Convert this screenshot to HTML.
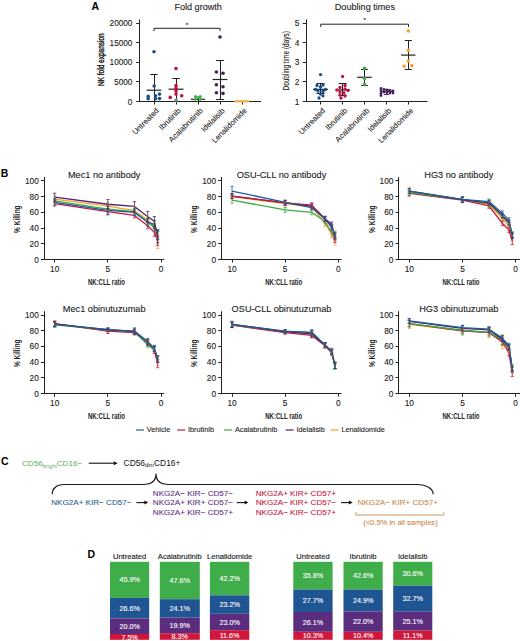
<!DOCTYPE html>
<html><head><meta charset="utf-8"><style>
html,body{margin:0;padding:0;background:#fff;}
svg{display:block;}
text{font-family:"Liberation Sans", sans-serif;}
</style></head><body>
<svg width="520" height="641" viewBox="0 0 520 641" font-family="Liberation Sans, sans-serif">
<rect width="520" height="641" fill="#fff"/>
<text x="91.60" y="9.50" font-size="10.5" fill="#000" font-weight="700" >A</text>
<text x="174.40" y="10.00" font-size="9.1" fill="#1a1a1a" stroke="#1a1a1a" stroke-width="0.1" >Fold growth</text>
<line x1="139.50" y1="19.50" x2="139.50" y2="102.00" stroke="#222" stroke-width="1" />
<line x1="139.00" y1="101.50" x2="261.00" y2="101.50" stroke="#222" stroke-width="1" />
<line x1="136.20" y1="101.50" x2="139.50" y2="101.50" stroke="#222" stroke-width="1" />
<text x="132.40" y="104.50" font-size="8.2" fill="#1a1a1a" stroke="#1a1a1a" stroke-width="0.1" text-anchor="end" >0</text>
<line x1="136.20" y1="81.50" x2="139.50" y2="81.50" stroke="#222" stroke-width="1" />
<text x="132.40" y="84.92" font-size="8.2" fill="#1a1a1a" stroke="#1a1a1a" stroke-width="0.1" text-anchor="end" >5000</text>
<line x1="136.20" y1="62.50" x2="139.50" y2="62.50" stroke="#222" stroke-width="1" />
<text x="132.40" y="65.35" font-size="8.2" fill="#1a1a1a" stroke="#1a1a1a" stroke-width="0.1" text-anchor="end" >10000</text>
<line x1="136.20" y1="42.50" x2="139.50" y2="42.50" stroke="#222" stroke-width="1" />
<text x="132.40" y="45.77" font-size="8.2" fill="#1a1a1a" stroke="#1a1a1a" stroke-width="0.1" text-anchor="end" >15000</text>
<line x1="136.20" y1="23.50" x2="139.50" y2="23.50" stroke="#222" stroke-width="1" />
<text x="132.40" y="26.20" font-size="8.2" fill="#1a1a1a" stroke="#1a1a1a" stroke-width="0.1" text-anchor="end" >20000</text>
<text x="0.00" y="0.00" font-size="8.8" fill="#111" stroke="#111" stroke-width="0.35" text-anchor="middle" textLength="52.7" lengthAdjust="spacingAndGlyphs" transform="translate(104.4,59.7) rotate(-90)" >NK fold expansion</text>
<line x1="154.50" y1="101.50" x2="154.50" y2="104.50" stroke="#222" stroke-width="1" />
<text x="0.00" y="0.00" font-size="7.7" fill="#1a1a1a" stroke="#1a1a1a" stroke-width="0.1" text-anchor="end" transform="translate(159.30,111.2) rotate(-45)" >Untreated</text>
<line x1="176.50" y1="101.50" x2="176.50" y2="104.50" stroke="#222" stroke-width="1" />
<text x="0.00" y="0.00" font-size="7.7" fill="#1a1a1a" stroke="#1a1a1a" stroke-width="0.1" text-anchor="end" transform="translate(181.30,111.2) rotate(-45)" >Ibrutinib</text>
<line x1="198.50" y1="101.50" x2="198.50" y2="104.50" stroke="#222" stroke-width="1" />
<text x="0.00" y="0.00" font-size="7.7" fill="#1a1a1a" stroke="#1a1a1a" stroke-width="0.1" text-anchor="end" transform="translate(203.30,111.2) rotate(-45)" >Acalabrutinib</text>
<line x1="220.50" y1="101.50" x2="220.50" y2="104.50" stroke="#222" stroke-width="1" />
<text x="0.00" y="0.00" font-size="7.7" fill="#1a1a1a" stroke="#1a1a1a" stroke-width="0.1" text-anchor="end" transform="translate(225.30,111.2) rotate(-45)" >Idelalisib</text>
<line x1="242.50" y1="101.50" x2="242.50" y2="104.50" stroke="#222" stroke-width="1" />
<text x="0.00" y="0.00" font-size="7.7" fill="#1a1a1a" stroke="#1a1a1a" stroke-width="0.1" text-anchor="end" transform="translate(247.30,111.2) rotate(-45)" >Lenalidomide</text>
<path d="M154,31 V28.3 H220 V31" fill="none" stroke="#222" stroke-width="1"/>
<text x="187.00" y="26.50" font-size="6" fill="#1a1a1a" stroke="#1a1a1a" stroke-width="0.1" text-anchor="middle" >*</text>
<line x1="154.50" y1="74.30" x2="154.50" y2="101.50" stroke="#222" stroke-width="1" />
<line x1="150.30" y1="74.50" x2="157.70" y2="74.50" stroke="#222" stroke-width="1" />
<line x1="150.30" y1="101.50" x2="157.70" y2="101.50" stroke="#222" stroke-width="1" />
<line x1="146.70" y1="90.20" x2="161.30" y2="90.20" stroke="#222" stroke-width="1.2" />
<line x1="176.50" y1="78.30" x2="176.50" y2="101.50" stroke="#222" stroke-width="1" />
<line x1="172.25" y1="78.50" x2="179.75" y2="78.50" stroke="#222" stroke-width="1" />
<line x1="172.25" y1="101.50" x2="179.75" y2="101.50" stroke="#222" stroke-width="1" />
<line x1="168.50" y1="89.20" x2="183.50" y2="89.20" stroke="#222" stroke-width="1.2" />
<line x1="198.50" y1="97.20" x2="198.50" y2="104.00" stroke="#222" stroke-width="1" />
<line x1="198.50" y1="97.50" x2="198.50" y2="97.50" stroke="#222" stroke-width="1" />
<line x1="198.50" y1="104.50" x2="198.50" y2="104.50" stroke="#222" stroke-width="1" />
<line x1="190.90" y1="99.30" x2="205.10" y2="99.30" stroke="#222" stroke-width="1.2" />
<line x1="220.50" y1="60.00" x2="220.50" y2="99.00" stroke="#222" stroke-width="1" />
<line x1="215.90" y1="60.50" x2="224.10" y2="60.50" stroke="#222" stroke-width="1" />
<line x1="215.90" y1="99.50" x2="224.10" y2="99.50" stroke="#222" stroke-width="1" />
<line x1="212.60" y1="79.50" x2="227.40" y2="79.50" stroke="#222" stroke-width="1.2" />
<text x="334.80" y="10.00" font-size="9.1" fill="#1a1a1a" stroke="#1a1a1a" stroke-width="0.1" >Doubling times</text>
<line x1="306.50" y1="19.50" x2="306.50" y2="102.00" stroke="#222" stroke-width="1" />
<line x1="305.50" y1="101.50" x2="427.50" y2="101.50" stroke="#222" stroke-width="1" />
<line x1="302.70" y1="101.50" x2="306.00" y2="101.50" stroke="#222" stroke-width="1" />
<text x="299.40" y="104.50" font-size="8.3" fill="#1a1a1a" stroke="#1a1a1a" stroke-width="0.1" text-anchor="end" >1</text>
<line x1="302.70" y1="81.50" x2="306.00" y2="81.50" stroke="#222" stroke-width="1" />
<text x="299.40" y="84.93" font-size="8.3" fill="#1a1a1a" stroke="#1a1a1a" stroke-width="0.1" text-anchor="end" >2</text>
<line x1="302.70" y1="62.50" x2="306.00" y2="62.50" stroke="#222" stroke-width="1" />
<text x="299.40" y="65.36" font-size="8.3" fill="#1a1a1a" stroke="#1a1a1a" stroke-width="0.1" text-anchor="end" >3</text>
<line x1="302.70" y1="42.50" x2="306.00" y2="42.50" stroke="#222" stroke-width="1" />
<text x="299.40" y="45.79" font-size="8.3" fill="#1a1a1a" stroke="#1a1a1a" stroke-width="0.1" text-anchor="end" >4</text>
<line x1="302.70" y1="23.50" x2="306.00" y2="23.50" stroke="#222" stroke-width="1" />
<text x="299.40" y="26.22" font-size="8.3" fill="#1a1a1a" stroke="#1a1a1a" stroke-width="0.1" text-anchor="end" >5</text>
<text x="0.00" y="0.00" font-size="8.7" fill="#1a1a1a" stroke="#1a1a1a" stroke-width="0.1" text-anchor="middle" textLength="59.5" lengthAdjust="spacingAndGlyphs" transform="translate(289.3,60.8) rotate(-90)" >Doubling time (days)</text>
<line x1="320.50" y1="101.50" x2="320.50" y2="104.50" stroke="#222" stroke-width="1" />
<text x="0.00" y="0.00" font-size="7.7" fill="#1a1a1a" stroke="#1a1a1a" stroke-width="0.1" text-anchor="end" transform="translate(325.60,111.2) rotate(-45)" >Untreated</text>
<line x1="342.50" y1="101.50" x2="342.50" y2="104.50" stroke="#222" stroke-width="1" />
<text x="0.00" y="0.00" font-size="7.7" fill="#1a1a1a" stroke="#1a1a1a" stroke-width="0.1" text-anchor="end" transform="translate(347.80,111.2) rotate(-45)" >Ibrutinib</text>
<line x1="364.50" y1="101.50" x2="364.50" y2="104.50" stroke="#222" stroke-width="1" />
<text x="0.00" y="0.00" font-size="7.7" fill="#1a1a1a" stroke="#1a1a1a" stroke-width="0.1" text-anchor="end" transform="translate(369.80,111.2) rotate(-45)" >Acalabrutinib</text>
<line x1="386.50" y1="101.50" x2="386.50" y2="104.50" stroke="#222" stroke-width="1" />
<text x="0.00" y="0.00" font-size="7.7" fill="#1a1a1a" stroke="#1a1a1a" stroke-width="0.1" text-anchor="end" transform="translate(391.80,111.2) rotate(-45)" >Idelalisib</text>
<line x1="408.50" y1="101.50" x2="408.50" y2="104.50" stroke="#222" stroke-width="1" />
<text x="0.00" y="0.00" font-size="7.7" fill="#1a1a1a" stroke="#1a1a1a" stroke-width="0.1" text-anchor="end" transform="translate(413.70,111.2) rotate(-45)" >Lenalidomide</text>
<path d="M320.8,27 V24.2 H408.5 V27" fill="none" stroke="#222" stroke-width="1"/>
<text x="364.60" y="22.30" font-size="6" fill="#1a1a1a" stroke="#1a1a1a" stroke-width="0.1" text-anchor="middle" >*</text>
<line x1="320.50" y1="83.40" x2="320.50" y2="93.50" stroke="#222" stroke-width="1" />
<line x1="316.50" y1="83.50" x2="324.50" y2="83.50" stroke="#222" stroke-width="1" />
<line x1="316.50" y1="93.50" x2="324.50" y2="93.50" stroke="#222" stroke-width="1" />
<line x1="313.05" y1="89.40" x2="327.95" y2="89.40" stroke="#222" stroke-width="1.2" />
<line x1="342.50" y1="83.90" x2="342.50" y2="95.50" stroke="#222" stroke-width="1" />
<line x1="338.60" y1="83.50" x2="346.60" y2="83.50" stroke="#222" stroke-width="1" />
<line x1="338.60" y1="95.50" x2="346.60" y2="95.50" stroke="#222" stroke-width="1" />
<line x1="335.30" y1="89.90" x2="349.90" y2="89.90" stroke="#222" stroke-width="1.2" />
<line x1="364.50" y1="69.30" x2="364.50" y2="85.40" stroke="#222" stroke-width="1" />
<line x1="361.10" y1="69.50" x2="367.90" y2="69.50" stroke="#222" stroke-width="1" />
<line x1="361.10" y1="85.50" x2="367.90" y2="85.50" stroke="#222" stroke-width="1" />
<line x1="357.20" y1="77.30" x2="371.80" y2="77.30" stroke="#222" stroke-width="1.2" />
<line x1="386.50" y1="89.00" x2="386.50" y2="94.00" stroke="#4e2568" stroke-width="1" />
<line x1="384.00" y1="89.50" x2="389.00" y2="89.50" stroke="#4e2568" stroke-width="1" />
<line x1="384.00" y1="94.50" x2="389.00" y2="94.50" stroke="#4e2568" stroke-width="1" />
<line x1="380.50" y1="91.40" x2="392.50" y2="91.40" stroke="#4e2568" stroke-width="1.2" />
<line x1="408.50" y1="40.40" x2="408.50" y2="69.90" stroke="#222" stroke-width="1" />
<line x1="404.70" y1="40.50" x2="411.90" y2="40.50" stroke="#222" stroke-width="1" />
<line x1="404.70" y1="69.50" x2="411.90" y2="69.50" stroke="#222" stroke-width="1" />
<line x1="401.10" y1="55.10" x2="415.50" y2="55.10" stroke="#222" stroke-width="1.2" />
<circle cx="154.00" cy="51.80" r="1.8" fill="#1a4f88"/>
<circle cx="154.20" cy="86.00" r="1.8" fill="#1a4f88"/>
<circle cx="148.20" cy="96.40" r="1.8" fill="#1a4f88"/>
<circle cx="148.20" cy="98.80" r="1.8" fill="#1a4f88"/>
<circle cx="155.50" cy="95.70" r="1.8" fill="#1a4f88"/>
<circle cx="155.50" cy="98.80" r="1.8" fill="#1a4f88"/>
<circle cx="159.50" cy="94.10" r="1.8" fill="#1a4f88"/>
<circle cx="159.50" cy="98.60" r="1.8" fill="#1a4f88"/>
<circle cx="176.00" cy="68.60" r="1.8" fill="#bd1442"/>
<circle cx="176.00" cy="85.60" r="1.8" fill="#bd1442"/>
<circle cx="176.00" cy="88.20" r="1.8" fill="#bd1442"/>
<circle cx="176.00" cy="91.00" r="1.8" fill="#bd1442"/>
<circle cx="176.00" cy="94.10" r="1.8" fill="#bd1442"/>
<circle cx="170.20" cy="97.40" r="1.8" fill="#bd1442"/>
<circle cx="181.70" cy="95.70" r="1.8" fill="#bd1442"/>
<circle cx="176.00" cy="100.30" r="1.8" fill="#7a8a80"/>
<circle cx="195.50" cy="96.60" r="1.5" fill="#3fae4a"/>
<circle cx="200.30" cy="96.60" r="1.5" fill="#3fae4a"/>
<circle cx="195.50" cy="99.20" r="1.5" fill="#3fae4a"/>
<circle cx="200.30" cy="99.20" r="1.5" fill="#3fae4a"/>
<circle cx="198.00" cy="97.60" r="1.5" fill="#3fae4a"/>
<circle cx="220.00" cy="37.00" r="1.8" fill="#43205e"/>
<circle cx="216.40" cy="72.00" r="1.8" fill="#43205e"/>
<circle cx="223.00" cy="73.30" r="1.8" fill="#43205e"/>
<circle cx="216.40" cy="84.80" r="1.8" fill="#43205e"/>
<circle cx="223.00" cy="86.80" r="1.8" fill="#43205e"/>
<circle cx="216.40" cy="92.80" r="1.8" fill="#43205e"/>
<circle cx="223.00" cy="93.40" r="1.8" fill="#43205e"/>
<circle cx="235.80" cy="101.30" r="1.35" fill="#f4ad3c"/>
<circle cx="238.20" cy="101.30" r="1.35" fill="#f4ad3c"/>
<circle cx="240.60" cy="101.30" r="1.35" fill="#f4ad3c"/>
<circle cx="243.00" cy="101.30" r="1.35" fill="#f4ad3c"/>
<circle cx="245.40" cy="101.30" r="1.35" fill="#f4ad3c"/>
<circle cx="247.80" cy="101.30" r="1.35" fill="#f4ad3c"/>
<circle cx="320.50" cy="74.60" r="1.65" fill="#1a4f88"/>
<circle cx="317.00" cy="85.50" r="1.65" fill="#1a4f88"/>
<circle cx="323.00" cy="85.00" r="1.65" fill="#1a4f88"/>
<circle cx="320.50" cy="87.00" r="1.65" fill="#1a4f88"/>
<circle cx="315.50" cy="89.50" r="1.65" fill="#1a4f88"/>
<circle cx="325.50" cy="89.50" r="1.65" fill="#1a4f88"/>
<circle cx="318.00" cy="91.00" r="1.65" fill="#1a4f88"/>
<circle cx="323.00" cy="91.50" r="1.65" fill="#1a4f88"/>
<circle cx="320.50" cy="94.00" r="1.65" fill="#1a4f88"/>
<circle cx="323.00" cy="95.80" r="1.65" fill="#1a4f88"/>
<circle cx="319.00" cy="98.00" r="1.65" fill="#1a4f88"/>
<circle cx="342.60" cy="76.50" r="1.65" fill="#bd1442"/>
<circle cx="345.00" cy="85.50" r="1.65" fill="#bd1442"/>
<circle cx="340.00" cy="87.50" r="1.65" fill="#bd1442"/>
<circle cx="337.00" cy="90.00" r="1.65" fill="#bd1442"/>
<circle cx="345.00" cy="89.00" r="1.65" fill="#bd1442"/>
<circle cx="348.00" cy="90.50" r="1.65" fill="#bd1442"/>
<circle cx="340.00" cy="92.00" r="1.65" fill="#bd1442"/>
<circle cx="344.00" cy="93.00" r="1.65" fill="#bd1442"/>
<circle cx="340.00" cy="95.00" r="1.65" fill="#bd1442"/>
<circle cx="345.00" cy="96.00" r="1.65" fill="#bd1442"/>
<circle cx="341.00" cy="98.00" r="1.65" fill="#bd1442"/>
<circle cx="364.50" cy="68.30" r="1.8" fill="#3fae4a"/>
<circle cx="364.50" cy="78.50" r="1.8" fill="#3fae4a"/>
<circle cx="364.50" cy="84.60" r="1.8" fill="#3fae4a"/>
<circle cx="381.00" cy="88.50" r="1.4" fill="#43205e"/>
<circle cx="381.00" cy="91.00" r="1.4" fill="#43205e"/>
<circle cx="381.00" cy="93.50" r="1.4" fill="#43205e"/>
<circle cx="381.00" cy="95.50" r="1.4" fill="#43205e"/>
<circle cx="384.00" cy="89.50" r="1.4" fill="#43205e"/>
<circle cx="384.00" cy="92.00" r="1.4" fill="#43205e"/>
<circle cx="387.00" cy="90.00" r="1.4" fill="#43205e"/>
<circle cx="387.00" cy="92.50" r="1.4" fill="#43205e"/>
<circle cx="390.00" cy="90.50" r="1.4" fill="#43205e"/>
<circle cx="390.00" cy="93.00" r="1.4" fill="#43205e"/>
<circle cx="393.00" cy="91.00" r="1.4" fill="#43205e"/>
<circle cx="393.00" cy="93.00" r="1.4" fill="#43205e"/>
<circle cx="408.30" cy="31.00" r="1.8" fill="#f2a32c"/>
<circle cx="408.30" cy="50.30" r="1.8" fill="#f2a32c"/>
<circle cx="408.30" cy="61.00" r="1.8" fill="#f2a32c"/>
<circle cx="404.20" cy="66.30" r="1.8" fill="#f2a32c"/>
<circle cx="411.80" cy="65.50" r="1.8" fill="#f2a32c"/>
<text x="0.80" y="176.60" font-size="10.5" fill="#000" font-weight="700" >B</text>
<text x="104.20" y="177.50" font-size="9.2" fill="#1a1a1a" stroke="#1a1a1a" stroke-width="0.1" text-anchor="middle" >Mec1 no antibody</text>
<line x1="44.50" y1="177.00" x2="44.50" y2="260.00" stroke="#222" stroke-width="1" />
<line x1="43.70" y1="259.50" x2="164.20" y2="259.50" stroke="#222" stroke-width="1" />
<line x1="40.90" y1="259.50" x2="44.20" y2="259.50" stroke="#222" stroke-width="1" />
<text x="38.80" y="262.50" font-size="8.3" fill="#1a1a1a" stroke="#1a1a1a" stroke-width="0.1" text-anchor="end" >0</text>
<line x1="40.90" y1="243.50" x2="44.20" y2="243.50" stroke="#222" stroke-width="1" />
<text x="38.80" y="246.76" font-size="8.3" fill="#1a1a1a" stroke="#1a1a1a" stroke-width="0.1" text-anchor="end" >20</text>
<line x1="40.90" y1="228.50" x2="44.20" y2="228.50" stroke="#222" stroke-width="1" />
<text x="38.80" y="231.02" font-size="8.3" fill="#1a1a1a" stroke="#1a1a1a" stroke-width="0.1" text-anchor="end" >40</text>
<line x1="40.90" y1="212.50" x2="44.20" y2="212.50" stroke="#222" stroke-width="1" />
<text x="38.80" y="215.28" font-size="8.3" fill="#1a1a1a" stroke="#1a1a1a" stroke-width="0.1" text-anchor="end" >60</text>
<line x1="40.90" y1="196.50" x2="44.20" y2="196.50" stroke="#222" stroke-width="1" />
<text x="38.80" y="199.54" font-size="8.3" fill="#1a1a1a" stroke="#1a1a1a" stroke-width="0.1" text-anchor="end" >80</text>
<line x1="40.90" y1="180.50" x2="44.20" y2="180.50" stroke="#222" stroke-width="1" />
<text x="38.80" y="183.80" font-size="8.3" fill="#1a1a1a" stroke="#1a1a1a" stroke-width="0.1" text-anchor="end" >100</text>
<line x1="54.50" y1="259.50" x2="54.50" y2="262.50" stroke="#222" stroke-width="1" />
<text x="54.70" y="271.50" font-size="8.3" fill="#1a1a1a" stroke="#1a1a1a" stroke-width="0.1" text-anchor="middle" >10</text>
<line x1="107.50" y1="259.50" x2="107.50" y2="262.50" stroke="#222" stroke-width="1" />
<text x="107.85" y="271.50" font-size="8.3" fill="#1a1a1a" stroke="#1a1a1a" stroke-width="0.1" text-anchor="middle" >5</text>
<line x1="161.50" y1="259.50" x2="161.50" y2="262.50" stroke="#222" stroke-width="1" />
<text x="161.00" y="271.50" font-size="8.3" fill="#1a1a1a" stroke="#1a1a1a" stroke-width="0.1" text-anchor="middle" >0</text>
<text x="106.40" y="284.50" font-size="9.3" fill="#222" text-anchor="middle" font-weight="700" textLength="37" lengthAdjust="spacingAndGlyphs" >NK:CLL ratio</text>
<text x="0.00" y="0.00" font-size="8.5" fill="#222" text-anchor="middle" font-weight="700" textLength="27.5" lengthAdjust="spacingAndGlyphs" transform="translate(19.90,219.15) rotate(-90)" >% Killing</text>
<polyline points="54.70,199.22 107.85,206.22 134.43,210.71 147.71,220.15 154.36,226.45 157.68,242.97" fill="none" stroke="#f2a32c" stroke-width="1.3" stroke-linejoin="round"/>
<polyline points="54.70,200.95 107.85,209.13 134.43,211.73 147.71,221.72 154.36,228.02 157.68,235.50" fill="none" stroke="#3aaa45" stroke-width="1.3" stroke-linejoin="round"/>
<polyline points="54.70,203.62 107.85,211.73 134.43,215.43 147.71,225.74 154.36,232.35 157.68,240.85" fill="none" stroke="#c9163f" stroke-width="1.3" stroke-linejoin="round"/>
<polyline points="54.70,202.29 107.85,210.39 134.43,212.44 147.71,222.35 154.36,224.48 157.68,234.32" fill="none" stroke="#1d5c9c" stroke-width="1.3" stroke-linejoin="round"/>
<polyline points="54.70,197.17 107.85,204.25 134.43,206.46 147.71,216.84 154.36,221.33 157.68,236.68" fill="none" stroke="#4e2568" stroke-width="1.3" stroke-linejoin="round"/>
<line x1="54.70" y1="196.07" x2="54.70" y2="202.36" stroke="#f2a32c" stroke-width="0.8" />
<line x1="53.10" y1="196.07" x2="56.30" y2="196.07" stroke="#f2a32c" stroke-width="0.8" />
<line x1="53.10" y1="202.36" x2="56.30" y2="202.36" stroke="#f2a32c" stroke-width="0.8" />
<line x1="107.85" y1="202.29" x2="107.85" y2="210.16" stroke="#f2a32c" stroke-width="0.8" />
<line x1="106.25" y1="202.29" x2="109.45" y2="202.29" stroke="#f2a32c" stroke-width="0.8" />
<line x1="106.25" y1="210.16" x2="109.45" y2="210.16" stroke="#f2a32c" stroke-width="0.8" />
<line x1="134.43" y1="206.77" x2="134.43" y2="214.64" stroke="#f2a32c" stroke-width="0.8" />
<line x1="132.83" y1="206.77" x2="136.03" y2="206.77" stroke="#f2a32c" stroke-width="0.8" />
<line x1="132.83" y1="214.64" x2="136.03" y2="214.64" stroke="#f2a32c" stroke-width="0.8" />
<line x1="147.71" y1="216.22" x2="147.71" y2="224.09" stroke="#f2a32c" stroke-width="0.8" />
<line x1="146.11" y1="216.22" x2="149.31" y2="216.22" stroke="#f2a32c" stroke-width="0.8" />
<line x1="146.11" y1="224.09" x2="149.31" y2="224.09" stroke="#f2a32c" stroke-width="0.8" />
<line x1="154.36" y1="221.72" x2="154.36" y2="231.17" stroke="#f2a32c" stroke-width="0.8" />
<line x1="152.76" y1="221.72" x2="155.96" y2="221.72" stroke="#f2a32c" stroke-width="0.8" />
<line x1="152.76" y1="231.17" x2="155.96" y2="231.17" stroke="#f2a32c" stroke-width="0.8" />
<line x1="157.68" y1="237.46" x2="157.68" y2="248.48" stroke="#f2a32c" stroke-width="0.8" />
<line x1="156.08" y1="237.46" x2="159.28" y2="237.46" stroke="#f2a32c" stroke-width="0.8" />
<line x1="156.08" y1="248.48" x2="159.28" y2="248.48" stroke="#f2a32c" stroke-width="0.8" />
<line x1="54.70" y1="198.59" x2="54.70" y2="203.31" stroke="#3aaa45" stroke-width="0.8" />
<line x1="53.10" y1="198.59" x2="56.30" y2="198.59" stroke="#3aaa45" stroke-width="0.8" />
<line x1="53.10" y1="203.31" x2="56.30" y2="203.31" stroke="#3aaa45" stroke-width="0.8" />
<line x1="107.85" y1="205.98" x2="107.85" y2="212.28" stroke="#3aaa45" stroke-width="0.8" />
<line x1="106.25" y1="205.98" x2="109.45" y2="205.98" stroke="#3aaa45" stroke-width="0.8" />
<line x1="106.25" y1="212.28" x2="109.45" y2="212.28" stroke="#3aaa45" stroke-width="0.8" />
<line x1="134.43" y1="208.58" x2="134.43" y2="214.88" stroke="#3aaa45" stroke-width="0.8" />
<line x1="132.83" y1="208.58" x2="136.03" y2="208.58" stroke="#3aaa45" stroke-width="0.8" />
<line x1="132.83" y1="214.88" x2="136.03" y2="214.88" stroke="#3aaa45" stroke-width="0.8" />
<line x1="147.71" y1="218.58" x2="147.71" y2="224.87" stroke="#3aaa45" stroke-width="0.8" />
<line x1="146.11" y1="218.58" x2="149.31" y2="218.58" stroke="#3aaa45" stroke-width="0.8" />
<line x1="146.11" y1="224.87" x2="149.31" y2="224.87" stroke="#3aaa45" stroke-width="0.8" />
<line x1="154.36" y1="224.87" x2="154.36" y2="231.17" stroke="#3aaa45" stroke-width="0.8" />
<line x1="152.76" y1="224.87" x2="155.96" y2="224.87" stroke="#3aaa45" stroke-width="0.8" />
<line x1="152.76" y1="231.17" x2="155.96" y2="231.17" stroke="#3aaa45" stroke-width="0.8" />
<line x1="157.68" y1="231.56" x2="157.68" y2="239.43" stroke="#3aaa45" stroke-width="0.8" />
<line x1="156.08" y1="231.56" x2="159.28" y2="231.56" stroke="#3aaa45" stroke-width="0.8" />
<line x1="156.08" y1="239.43" x2="159.28" y2="239.43" stroke="#3aaa45" stroke-width="0.8" />
<line x1="54.70" y1="201.26" x2="54.70" y2="205.98" stroke="#c9163f" stroke-width="0.8" />
<line x1="53.10" y1="201.26" x2="56.30" y2="201.26" stroke="#c9163f" stroke-width="0.8" />
<line x1="53.10" y1="205.98" x2="56.30" y2="205.98" stroke="#c9163f" stroke-width="0.8" />
<line x1="107.85" y1="208.58" x2="107.85" y2="214.88" stroke="#c9163f" stroke-width="0.8" />
<line x1="106.25" y1="208.58" x2="109.45" y2="208.58" stroke="#c9163f" stroke-width="0.8" />
<line x1="106.25" y1="214.88" x2="109.45" y2="214.88" stroke="#c9163f" stroke-width="0.8" />
<line x1="134.43" y1="213.07" x2="134.43" y2="217.79" stroke="#c9163f" stroke-width="0.8" />
<line x1="132.83" y1="213.07" x2="136.03" y2="213.07" stroke="#c9163f" stroke-width="0.8" />
<line x1="132.83" y1="217.79" x2="136.03" y2="217.79" stroke="#c9163f" stroke-width="0.8" />
<line x1="147.71" y1="222.59" x2="147.71" y2="228.89" stroke="#c9163f" stroke-width="0.8" />
<line x1="146.11" y1="222.59" x2="149.31" y2="222.59" stroke="#c9163f" stroke-width="0.8" />
<line x1="146.11" y1="228.89" x2="149.31" y2="228.89" stroke="#c9163f" stroke-width="0.8" />
<line x1="154.36" y1="228.41" x2="154.36" y2="236.28" stroke="#c9163f" stroke-width="0.8" />
<line x1="152.76" y1="228.41" x2="155.96" y2="228.41" stroke="#c9163f" stroke-width="0.8" />
<line x1="152.76" y1="236.28" x2="155.96" y2="236.28" stroke="#c9163f" stroke-width="0.8" />
<line x1="157.68" y1="236.13" x2="157.68" y2="245.57" stroke="#c9163f" stroke-width="0.8" />
<line x1="156.08" y1="236.13" x2="159.28" y2="236.13" stroke="#c9163f" stroke-width="0.8" />
<line x1="156.08" y1="245.57" x2="159.28" y2="245.57" stroke="#c9163f" stroke-width="0.8" />
<line x1="54.70" y1="199.14" x2="54.70" y2="205.43" stroke="#1d5c9c" stroke-width="0.8" />
<line x1="53.10" y1="199.14" x2="56.30" y2="199.14" stroke="#1d5c9c" stroke-width="0.8" />
<line x1="53.10" y1="205.43" x2="56.30" y2="205.43" stroke="#1d5c9c" stroke-width="0.8" />
<line x1="107.85" y1="206.46" x2="107.85" y2="214.33" stroke="#1d5c9c" stroke-width="0.8" />
<line x1="106.25" y1="206.46" x2="109.45" y2="206.46" stroke="#1d5c9c" stroke-width="0.8" />
<line x1="106.25" y1="214.33" x2="109.45" y2="214.33" stroke="#1d5c9c" stroke-width="0.8" />
<line x1="134.43" y1="209.29" x2="134.43" y2="215.59" stroke="#1d5c9c" stroke-width="0.8" />
<line x1="132.83" y1="209.29" x2="136.03" y2="209.29" stroke="#1d5c9c" stroke-width="0.8" />
<line x1="132.83" y1="215.59" x2="136.03" y2="215.59" stroke="#1d5c9c" stroke-width="0.8" />
<line x1="147.71" y1="218.42" x2="147.71" y2="226.29" stroke="#1d5c9c" stroke-width="0.8" />
<line x1="146.11" y1="218.42" x2="149.31" y2="218.42" stroke="#1d5c9c" stroke-width="0.8" />
<line x1="146.11" y1="226.29" x2="149.31" y2="226.29" stroke="#1d5c9c" stroke-width="0.8" />
<line x1="154.36" y1="220.54" x2="154.36" y2="228.41" stroke="#1d5c9c" stroke-width="0.8" />
<line x1="152.76" y1="220.54" x2="155.96" y2="220.54" stroke="#1d5c9c" stroke-width="0.8" />
<line x1="152.76" y1="228.41" x2="155.96" y2="228.41" stroke="#1d5c9c" stroke-width="0.8" />
<line x1="157.68" y1="229.59" x2="157.68" y2="239.04" stroke="#1d5c9c" stroke-width="0.8" />
<line x1="156.08" y1="229.59" x2="159.28" y2="229.59" stroke="#1d5c9c" stroke-width="0.8" />
<line x1="156.08" y1="239.04" x2="159.28" y2="239.04" stroke="#1d5c9c" stroke-width="0.8" />
<line x1="54.70" y1="193.23" x2="54.70" y2="201.10" stroke="#4e2568" stroke-width="0.8" />
<line x1="53.10" y1="193.23" x2="56.30" y2="193.23" stroke="#4e2568" stroke-width="0.8" />
<line x1="53.10" y1="201.10" x2="56.30" y2="201.10" stroke="#4e2568" stroke-width="0.8" />
<line x1="107.85" y1="199.53" x2="107.85" y2="208.97" stroke="#4e2568" stroke-width="0.8" />
<line x1="106.25" y1="199.53" x2="109.45" y2="199.53" stroke="#4e2568" stroke-width="0.8" />
<line x1="106.25" y1="208.97" x2="109.45" y2="208.97" stroke="#4e2568" stroke-width="0.8" />
<line x1="134.43" y1="201.73" x2="134.43" y2="211.18" stroke="#4e2568" stroke-width="0.8" />
<line x1="132.83" y1="201.73" x2="136.03" y2="201.73" stroke="#4e2568" stroke-width="0.8" />
<line x1="132.83" y1="211.18" x2="136.03" y2="211.18" stroke="#4e2568" stroke-width="0.8" />
<line x1="147.71" y1="211.34" x2="147.71" y2="222.35" stroke="#4e2568" stroke-width="0.8" />
<line x1="146.11" y1="211.34" x2="149.31" y2="211.34" stroke="#4e2568" stroke-width="0.8" />
<line x1="146.11" y1="222.35" x2="149.31" y2="222.35" stroke="#4e2568" stroke-width="0.8" />
<line x1="154.36" y1="216.61" x2="154.36" y2="226.05" stroke="#4e2568" stroke-width="0.8" />
<line x1="152.76" y1="216.61" x2="155.96" y2="216.61" stroke="#4e2568" stroke-width="0.8" />
<line x1="152.76" y1="226.05" x2="155.96" y2="226.05" stroke="#4e2568" stroke-width="0.8" />
<line x1="157.68" y1="230.38" x2="157.68" y2="242.97" stroke="#4e2568" stroke-width="0.8" />
<line x1="156.08" y1="230.38" x2="159.28" y2="230.38" stroke="#4e2568" stroke-width="0.8" />
<line x1="156.08" y1="242.97" x2="159.28" y2="242.97" stroke="#4e2568" stroke-width="0.8" />
<text x="281.50" y="177.50" font-size="9.2" fill="#1a1a1a" stroke="#1a1a1a" stroke-width="0.1" text-anchor="middle" >OSU-CLL no antibody</text>
<line x1="221.50" y1="177.00" x2="221.50" y2="260.00" stroke="#222" stroke-width="1" />
<line x1="221.00" y1="259.50" x2="341.50" y2="259.50" stroke="#222" stroke-width="1" />
<line x1="218.20" y1="259.50" x2="221.50" y2="259.50" stroke="#222" stroke-width="1" />
<text x="216.10" y="262.50" font-size="8.3" fill="#1a1a1a" stroke="#1a1a1a" stroke-width="0.1" text-anchor="end" >0</text>
<line x1="218.20" y1="243.50" x2="221.50" y2="243.50" stroke="#222" stroke-width="1" />
<text x="216.10" y="246.76" font-size="8.3" fill="#1a1a1a" stroke="#1a1a1a" stroke-width="0.1" text-anchor="end" >20</text>
<line x1="218.20" y1="228.50" x2="221.50" y2="228.50" stroke="#222" stroke-width="1" />
<text x="216.10" y="231.02" font-size="8.3" fill="#1a1a1a" stroke="#1a1a1a" stroke-width="0.1" text-anchor="end" >40</text>
<line x1="218.20" y1="212.50" x2="221.50" y2="212.50" stroke="#222" stroke-width="1" />
<text x="216.10" y="215.28" font-size="8.3" fill="#1a1a1a" stroke="#1a1a1a" stroke-width="0.1" text-anchor="end" >60</text>
<line x1="218.20" y1="196.50" x2="221.50" y2="196.50" stroke="#222" stroke-width="1" />
<text x="216.10" y="199.54" font-size="8.3" fill="#1a1a1a" stroke="#1a1a1a" stroke-width="0.1" text-anchor="end" >80</text>
<line x1="218.20" y1="180.50" x2="221.50" y2="180.50" stroke="#222" stroke-width="1" />
<text x="216.10" y="183.80" font-size="8.3" fill="#1a1a1a" stroke="#1a1a1a" stroke-width="0.1" text-anchor="end" >100</text>
<line x1="232.50" y1="259.50" x2="232.50" y2="262.50" stroke="#222" stroke-width="1" />
<text x="232.00" y="271.50" font-size="8.3" fill="#1a1a1a" stroke="#1a1a1a" stroke-width="0.1" text-anchor="middle" >10</text>
<line x1="285.50" y1="259.50" x2="285.50" y2="262.50" stroke="#222" stroke-width="1" />
<text x="285.15" y="271.50" font-size="8.3" fill="#1a1a1a" stroke="#1a1a1a" stroke-width="0.1" text-anchor="middle" >5</text>
<line x1="338.50" y1="259.50" x2="338.50" y2="262.50" stroke="#222" stroke-width="1" />
<text x="338.30" y="271.50" font-size="8.3" fill="#1a1a1a" stroke="#1a1a1a" stroke-width="0.1" text-anchor="middle" >0</text>
<text x="283.70" y="284.50" font-size="9.3" fill="#222" text-anchor="middle" font-weight="700" textLength="37" lengthAdjust="spacingAndGlyphs" >NK:CLL ratio</text>
<text x="0.00" y="0.00" font-size="8.5" fill="#222" text-anchor="middle" font-weight="700" textLength="27.5" lengthAdjust="spacingAndGlyphs" transform="translate(197.20,219.15) rotate(-90)" >% Killing</text>
<polyline points="232.00,196.54 285.15,203.62 311.73,206.77 325.01,223.30 331.66,234.32 334.98,241.79" fill="none" stroke="#f2a32c" stroke-width="1.3" stroke-linejoin="round"/>
<polyline points="232.00,200.08 285.15,209.92 311.73,212.28 325.01,221.49 331.66,232.35 334.98,234.32" fill="none" stroke="#3aaa45" stroke-width="1.3" stroke-linejoin="round"/>
<polyline points="232.00,196.15 285.15,202.84 311.73,205.98 325.01,218.58 331.66,224.40 334.98,236.76" fill="none" stroke="#4e2568" stroke-width="1.3" stroke-linejoin="round"/>
<polyline points="232.00,196.15 285.15,202.84 311.73,205.20 325.01,219.36 331.66,226.45 334.98,239.27" fill="none" stroke="#c9163f" stroke-width="1.3" stroke-linejoin="round"/>
<polyline points="232.00,191.03 285.15,202.44 311.73,207.56 325.01,218.97 331.66,227.47 334.98,235.50" fill="none" stroke="#1d5c9c" stroke-width="1.3" stroke-linejoin="round"/>
<line x1="232.00" y1="194.18" x2="232.00" y2="198.90" stroke="#f2a32c" stroke-width="0.8" />
<line x1="230.40" y1="194.18" x2="233.60" y2="194.18" stroke="#f2a32c" stroke-width="0.8" />
<line x1="230.40" y1="198.90" x2="233.60" y2="198.90" stroke="#f2a32c" stroke-width="0.8" />
<line x1="285.15" y1="201.26" x2="285.15" y2="205.98" stroke="#f2a32c" stroke-width="0.8" />
<line x1="283.55" y1="201.26" x2="286.75" y2="201.26" stroke="#f2a32c" stroke-width="0.8" />
<line x1="283.55" y1="205.98" x2="286.75" y2="205.98" stroke="#f2a32c" stroke-width="0.8" />
<line x1="311.73" y1="204.41" x2="311.73" y2="209.13" stroke="#f2a32c" stroke-width="0.8" />
<line x1="310.12" y1="204.41" x2="313.33" y2="204.41" stroke="#f2a32c" stroke-width="0.8" />
<line x1="310.12" y1="209.13" x2="313.33" y2="209.13" stroke="#f2a32c" stroke-width="0.8" />
<line x1="325.01" y1="220.15" x2="325.01" y2="226.45" stroke="#f2a32c" stroke-width="0.8" />
<line x1="323.41" y1="220.15" x2="326.61" y2="220.15" stroke="#f2a32c" stroke-width="0.8" />
<line x1="323.41" y1="226.45" x2="326.61" y2="226.45" stroke="#f2a32c" stroke-width="0.8" />
<line x1="331.66" y1="231.17" x2="331.66" y2="237.46" stroke="#f2a32c" stroke-width="0.8" />
<line x1="330.06" y1="231.17" x2="333.26" y2="231.17" stroke="#f2a32c" stroke-width="0.8" />
<line x1="330.06" y1="237.46" x2="333.26" y2="237.46" stroke="#f2a32c" stroke-width="0.8" />
<line x1="334.98" y1="238.64" x2="334.98" y2="244.94" stroke="#f2a32c" stroke-width="0.8" />
<line x1="333.38" y1="238.64" x2="336.58" y2="238.64" stroke="#f2a32c" stroke-width="0.8" />
<line x1="333.38" y1="244.94" x2="336.58" y2="244.94" stroke="#f2a32c" stroke-width="0.8" />
<line x1="232.00" y1="196.93" x2="232.00" y2="203.23" stroke="#3aaa45" stroke-width="0.8" />
<line x1="230.40" y1="196.93" x2="233.60" y2="196.93" stroke="#3aaa45" stroke-width="0.8" />
<line x1="230.40" y1="203.23" x2="233.60" y2="203.23" stroke="#3aaa45" stroke-width="0.8" />
<line x1="285.15" y1="207.56" x2="285.15" y2="212.28" stroke="#3aaa45" stroke-width="0.8" />
<line x1="283.55" y1="207.56" x2="286.75" y2="207.56" stroke="#3aaa45" stroke-width="0.8" />
<line x1="283.55" y1="212.28" x2="286.75" y2="212.28" stroke="#3aaa45" stroke-width="0.8" />
<line x1="311.73" y1="209.92" x2="311.73" y2="214.64" stroke="#3aaa45" stroke-width="0.8" />
<line x1="310.12" y1="209.92" x2="313.33" y2="209.92" stroke="#3aaa45" stroke-width="0.8" />
<line x1="310.12" y1="214.64" x2="313.33" y2="214.64" stroke="#3aaa45" stroke-width="0.8" />
<line x1="325.01" y1="219.13" x2="325.01" y2="223.85" stroke="#3aaa45" stroke-width="0.8" />
<line x1="323.41" y1="219.13" x2="326.61" y2="219.13" stroke="#3aaa45" stroke-width="0.8" />
<line x1="323.41" y1="223.85" x2="326.61" y2="223.85" stroke="#3aaa45" stroke-width="0.8" />
<line x1="331.66" y1="229.99" x2="331.66" y2="234.71" stroke="#3aaa45" stroke-width="0.8" />
<line x1="330.06" y1="229.99" x2="333.26" y2="229.99" stroke="#3aaa45" stroke-width="0.8" />
<line x1="330.06" y1="234.71" x2="333.26" y2="234.71" stroke="#3aaa45" stroke-width="0.8" />
<line x1="334.98" y1="231.17" x2="334.98" y2="237.46" stroke="#3aaa45" stroke-width="0.8" />
<line x1="333.38" y1="231.17" x2="336.58" y2="231.17" stroke="#3aaa45" stroke-width="0.8" />
<line x1="333.38" y1="237.46" x2="336.58" y2="237.46" stroke="#3aaa45" stroke-width="0.8" />
<line x1="232.00" y1="193.79" x2="232.00" y2="198.51" stroke="#4e2568" stroke-width="0.8" />
<line x1="230.40" y1="193.79" x2="233.60" y2="193.79" stroke="#4e2568" stroke-width="0.8" />
<line x1="230.40" y1="198.51" x2="233.60" y2="198.51" stroke="#4e2568" stroke-width="0.8" />
<line x1="285.15" y1="200.47" x2="285.15" y2="205.20" stroke="#4e2568" stroke-width="0.8" />
<line x1="283.55" y1="200.47" x2="286.75" y2="200.47" stroke="#4e2568" stroke-width="0.8" />
<line x1="283.55" y1="205.20" x2="286.75" y2="205.20" stroke="#4e2568" stroke-width="0.8" />
<line x1="311.73" y1="203.62" x2="311.73" y2="208.34" stroke="#4e2568" stroke-width="0.8" />
<line x1="310.12" y1="203.62" x2="313.33" y2="203.62" stroke="#4e2568" stroke-width="0.8" />
<line x1="310.12" y1="208.34" x2="313.33" y2="208.34" stroke="#4e2568" stroke-width="0.8" />
<line x1="325.01" y1="216.22" x2="325.01" y2="220.94" stroke="#4e2568" stroke-width="0.8" />
<line x1="323.41" y1="216.22" x2="326.61" y2="216.22" stroke="#4e2568" stroke-width="0.8" />
<line x1="323.41" y1="220.94" x2="326.61" y2="220.94" stroke="#4e2568" stroke-width="0.8" />
<line x1="331.66" y1="222.04" x2="331.66" y2="226.76" stroke="#4e2568" stroke-width="0.8" />
<line x1="330.06" y1="222.04" x2="333.26" y2="222.04" stroke="#4e2568" stroke-width="0.8" />
<line x1="330.06" y1="226.76" x2="333.26" y2="226.76" stroke="#4e2568" stroke-width="0.8" />
<line x1="334.98" y1="233.61" x2="334.98" y2="239.90" stroke="#4e2568" stroke-width="0.8" />
<line x1="333.38" y1="233.61" x2="336.58" y2="233.61" stroke="#4e2568" stroke-width="0.8" />
<line x1="333.38" y1="239.90" x2="336.58" y2="239.90" stroke="#4e2568" stroke-width="0.8" />
<line x1="232.00" y1="193.79" x2="232.00" y2="198.51" stroke="#c9163f" stroke-width="0.8" />
<line x1="230.40" y1="193.79" x2="233.60" y2="193.79" stroke="#c9163f" stroke-width="0.8" />
<line x1="230.40" y1="198.51" x2="233.60" y2="198.51" stroke="#c9163f" stroke-width="0.8" />
<line x1="285.15" y1="200.47" x2="285.15" y2="205.20" stroke="#c9163f" stroke-width="0.8" />
<line x1="283.55" y1="200.47" x2="286.75" y2="200.47" stroke="#c9163f" stroke-width="0.8" />
<line x1="283.55" y1="205.20" x2="286.75" y2="205.20" stroke="#c9163f" stroke-width="0.8" />
<line x1="311.73" y1="202.84" x2="311.73" y2="207.56" stroke="#c9163f" stroke-width="0.8" />
<line x1="310.12" y1="202.84" x2="313.33" y2="202.84" stroke="#c9163f" stroke-width="0.8" />
<line x1="310.12" y1="207.56" x2="313.33" y2="207.56" stroke="#c9163f" stroke-width="0.8" />
<line x1="325.01" y1="217.00" x2="325.01" y2="221.72" stroke="#c9163f" stroke-width="0.8" />
<line x1="323.41" y1="217.00" x2="326.61" y2="217.00" stroke="#c9163f" stroke-width="0.8" />
<line x1="323.41" y1="221.72" x2="326.61" y2="221.72" stroke="#c9163f" stroke-width="0.8" />
<line x1="331.66" y1="224.09" x2="331.66" y2="228.81" stroke="#c9163f" stroke-width="0.8" />
<line x1="330.06" y1="224.09" x2="333.26" y2="224.09" stroke="#c9163f" stroke-width="0.8" />
<line x1="330.06" y1="228.81" x2="333.26" y2="228.81" stroke="#c9163f" stroke-width="0.8" />
<line x1="334.98" y1="236.13" x2="334.98" y2="242.42" stroke="#c9163f" stroke-width="0.8" />
<line x1="333.38" y1="236.13" x2="336.58" y2="236.13" stroke="#c9163f" stroke-width="0.8" />
<line x1="333.38" y1="242.42" x2="336.58" y2="242.42" stroke="#c9163f" stroke-width="0.8" />
<line x1="232.00" y1="186.31" x2="232.00" y2="195.75" stroke="#1d5c9c" stroke-width="0.8" />
<line x1="230.40" y1="186.31" x2="233.60" y2="186.31" stroke="#1d5c9c" stroke-width="0.8" />
<line x1="230.40" y1="195.75" x2="233.60" y2="195.75" stroke="#1d5c9c" stroke-width="0.8" />
<line x1="285.15" y1="200.08" x2="285.15" y2="204.80" stroke="#1d5c9c" stroke-width="0.8" />
<line x1="283.55" y1="200.08" x2="286.75" y2="200.08" stroke="#1d5c9c" stroke-width="0.8" />
<line x1="283.55" y1="204.80" x2="286.75" y2="204.80" stroke="#1d5c9c" stroke-width="0.8" />
<line x1="311.73" y1="205.20" x2="311.73" y2="209.92" stroke="#1d5c9c" stroke-width="0.8" />
<line x1="310.12" y1="205.20" x2="313.33" y2="205.20" stroke="#1d5c9c" stroke-width="0.8" />
<line x1="310.12" y1="209.92" x2="313.33" y2="209.92" stroke="#1d5c9c" stroke-width="0.8" />
<line x1="325.01" y1="216.61" x2="325.01" y2="221.33" stroke="#1d5c9c" stroke-width="0.8" />
<line x1="323.41" y1="216.61" x2="326.61" y2="216.61" stroke="#1d5c9c" stroke-width="0.8" />
<line x1="323.41" y1="221.33" x2="326.61" y2="221.33" stroke="#1d5c9c" stroke-width="0.8" />
<line x1="331.66" y1="224.32" x2="331.66" y2="230.62" stroke="#1d5c9c" stroke-width="0.8" />
<line x1="330.06" y1="224.32" x2="333.26" y2="224.32" stroke="#1d5c9c" stroke-width="0.8" />
<line x1="330.06" y1="230.62" x2="333.26" y2="230.62" stroke="#1d5c9c" stroke-width="0.8" />
<line x1="334.98" y1="232.35" x2="334.98" y2="238.64" stroke="#1d5c9c" stroke-width="0.8" />
<line x1="333.38" y1="232.35" x2="336.58" y2="232.35" stroke="#1d5c9c" stroke-width="0.8" />
<line x1="333.38" y1="238.64" x2="336.58" y2="238.64" stroke="#1d5c9c" stroke-width="0.8" />
<text x="458.80" y="177.50" font-size="9.2" fill="#1a1a1a" stroke="#1a1a1a" stroke-width="0.1" text-anchor="middle" >HG3 no antibody</text>
<line x1="398.50" y1="177.00" x2="398.50" y2="260.00" stroke="#222" stroke-width="1" />
<line x1="398.30" y1="259.50" x2="520.30" y2="259.50" stroke="#222" stroke-width="1" />
<line x1="395.50" y1="259.50" x2="398.80" y2="259.50" stroke="#222" stroke-width="1" />
<text x="393.40" y="262.50" font-size="8.3" fill="#1a1a1a" stroke="#1a1a1a" stroke-width="0.1" text-anchor="end" >0</text>
<line x1="395.50" y1="243.50" x2="398.80" y2="243.50" stroke="#222" stroke-width="1" />
<text x="393.40" y="246.76" font-size="8.3" fill="#1a1a1a" stroke="#1a1a1a" stroke-width="0.1" text-anchor="end" >20</text>
<line x1="395.50" y1="228.50" x2="398.80" y2="228.50" stroke="#222" stroke-width="1" />
<text x="393.40" y="231.02" font-size="8.3" fill="#1a1a1a" stroke="#1a1a1a" stroke-width="0.1" text-anchor="end" >40</text>
<line x1="395.50" y1="212.50" x2="398.80" y2="212.50" stroke="#222" stroke-width="1" />
<text x="393.40" y="215.28" font-size="8.3" fill="#1a1a1a" stroke="#1a1a1a" stroke-width="0.1" text-anchor="end" >60</text>
<line x1="395.50" y1="196.50" x2="398.80" y2="196.50" stroke="#222" stroke-width="1" />
<text x="393.40" y="199.54" font-size="8.3" fill="#1a1a1a" stroke="#1a1a1a" stroke-width="0.1" text-anchor="end" >80</text>
<line x1="395.50" y1="180.50" x2="398.80" y2="180.50" stroke="#222" stroke-width="1" />
<text x="393.40" y="183.80" font-size="8.3" fill="#1a1a1a" stroke="#1a1a1a" stroke-width="0.1" text-anchor="end" >100</text>
<line x1="409.50" y1="259.50" x2="409.50" y2="262.50" stroke="#222" stroke-width="1" />
<text x="409.30" y="271.50" font-size="8.3" fill="#1a1a1a" stroke="#1a1a1a" stroke-width="0.1" text-anchor="middle" >10</text>
<line x1="462.50" y1="259.50" x2="462.50" y2="262.50" stroke="#222" stroke-width="1" />
<text x="462.45" y="271.50" font-size="8.3" fill="#1a1a1a" stroke="#1a1a1a" stroke-width="0.1" text-anchor="middle" >5</text>
<line x1="515.50" y1="259.50" x2="515.50" y2="262.50" stroke="#222" stroke-width="1" />
<text x="515.60" y="271.50" font-size="8.3" fill="#1a1a1a" stroke="#1a1a1a" stroke-width="0.1" text-anchor="middle" >0</text>
<text x="461.00" y="284.50" font-size="9.3" fill="#222" text-anchor="middle" font-weight="700" textLength="37" lengthAdjust="spacingAndGlyphs" >NK:CLL ratio</text>
<text x="0.00" y="0.00" font-size="8.5" fill="#222" text-anchor="middle" font-weight="700" textLength="27.5" lengthAdjust="spacingAndGlyphs" transform="translate(374.50,219.15) rotate(-90)" >% Killing</text>
<polyline points="409.30,191.82 462.45,199.69 489.03,204.41 502.31,218.58 508.96,226.45 512.28,237.46" fill="none" stroke="#f2a32c" stroke-width="1.3" stroke-linejoin="round"/>
<polyline points="409.30,193.39 462.45,200.08 489.03,205.98 502.31,223.30 508.96,230.07 512.28,241.40" fill="none" stroke="#c9163f" stroke-width="1.3" stroke-linejoin="round"/>
<polyline points="409.30,192.61 462.45,199.69 489.03,203.62 502.31,216.37 508.96,223.85 512.28,235.10" fill="none" stroke="#3aaa45" stroke-width="1.3" stroke-linejoin="round"/>
<polyline points="409.30,191.03 462.45,199.69 489.03,202.84 502.31,215.43 508.96,222.51 512.28,235.89" fill="none" stroke="#4e2568" stroke-width="1.3" stroke-linejoin="round"/>
<polyline points="409.30,191.03 462.45,199.45 489.03,201.58 502.31,213.30 508.96,220.15 512.28,234.63" fill="none" stroke="#1d5c9c" stroke-width="1.3" stroke-linejoin="round"/>
<line x1="409.30" y1="187.10" x2="409.30" y2="196.54" stroke="#f2a32c" stroke-width="0.8" />
<line x1="407.70" y1="187.10" x2="410.90" y2="187.10" stroke="#f2a32c" stroke-width="0.8" />
<line x1="407.70" y1="196.54" x2="410.90" y2="196.54" stroke="#f2a32c" stroke-width="0.8" />
<line x1="462.45" y1="197.33" x2="462.45" y2="202.05" stroke="#f2a32c" stroke-width="0.8" />
<line x1="460.85" y1="197.33" x2="464.05" y2="197.33" stroke="#f2a32c" stroke-width="0.8" />
<line x1="460.85" y1="202.05" x2="464.05" y2="202.05" stroke="#f2a32c" stroke-width="0.8" />
<line x1="489.03" y1="201.26" x2="489.03" y2="207.56" stroke="#f2a32c" stroke-width="0.8" />
<line x1="487.43" y1="201.26" x2="490.63" y2="201.26" stroke="#f2a32c" stroke-width="0.8" />
<line x1="487.43" y1="207.56" x2="490.63" y2="207.56" stroke="#f2a32c" stroke-width="0.8" />
<line x1="502.31" y1="216.22" x2="502.31" y2="220.94" stroke="#f2a32c" stroke-width="0.8" />
<line x1="500.71" y1="216.22" x2="503.91" y2="216.22" stroke="#f2a32c" stroke-width="0.8" />
<line x1="500.71" y1="220.94" x2="503.91" y2="220.94" stroke="#f2a32c" stroke-width="0.8" />
<line x1="508.96" y1="224.09" x2="508.96" y2="228.81" stroke="#f2a32c" stroke-width="0.8" />
<line x1="507.36" y1="224.09" x2="510.56" y2="224.09" stroke="#f2a32c" stroke-width="0.8" />
<line x1="507.36" y1="228.81" x2="510.56" y2="228.81" stroke="#f2a32c" stroke-width="0.8" />
<line x1="512.28" y1="234.32" x2="512.28" y2="240.61" stroke="#f2a32c" stroke-width="0.8" />
<line x1="510.68" y1="234.32" x2="513.88" y2="234.32" stroke="#f2a32c" stroke-width="0.8" />
<line x1="510.68" y1="240.61" x2="513.88" y2="240.61" stroke="#f2a32c" stroke-width="0.8" />
<line x1="409.30" y1="191.03" x2="409.30" y2="195.75" stroke="#c9163f" stroke-width="0.8" />
<line x1="407.70" y1="191.03" x2="410.90" y2="191.03" stroke="#c9163f" stroke-width="0.8" />
<line x1="407.70" y1="195.75" x2="410.90" y2="195.75" stroke="#c9163f" stroke-width="0.8" />
<line x1="462.45" y1="197.72" x2="462.45" y2="202.44" stroke="#c9163f" stroke-width="0.8" />
<line x1="460.85" y1="197.72" x2="464.05" y2="197.72" stroke="#c9163f" stroke-width="0.8" />
<line x1="460.85" y1="202.44" x2="464.05" y2="202.44" stroke="#c9163f" stroke-width="0.8" />
<line x1="489.03" y1="203.62" x2="489.03" y2="208.34" stroke="#c9163f" stroke-width="0.8" />
<line x1="487.43" y1="203.62" x2="490.63" y2="203.62" stroke="#c9163f" stroke-width="0.8" />
<line x1="487.43" y1="208.34" x2="490.63" y2="208.34" stroke="#c9163f" stroke-width="0.8" />
<line x1="502.31" y1="220.94" x2="502.31" y2="225.66" stroke="#c9163f" stroke-width="0.8" />
<line x1="500.71" y1="220.94" x2="503.91" y2="220.94" stroke="#c9163f" stroke-width="0.8" />
<line x1="500.71" y1="225.66" x2="503.91" y2="225.66" stroke="#c9163f" stroke-width="0.8" />
<line x1="508.96" y1="227.71" x2="508.96" y2="232.43" stroke="#c9163f" stroke-width="0.8" />
<line x1="507.36" y1="227.71" x2="510.56" y2="227.71" stroke="#c9163f" stroke-width="0.8" />
<line x1="507.36" y1="232.43" x2="510.56" y2="232.43" stroke="#c9163f" stroke-width="0.8" />
<line x1="512.28" y1="238.25" x2="512.28" y2="244.55" stroke="#c9163f" stroke-width="0.8" />
<line x1="510.68" y1="238.25" x2="513.88" y2="238.25" stroke="#c9163f" stroke-width="0.8" />
<line x1="510.68" y1="244.55" x2="513.88" y2="244.55" stroke="#c9163f" stroke-width="0.8" />
<line x1="409.30" y1="190.24" x2="409.30" y2="194.97" stroke="#3aaa45" stroke-width="0.8" />
<line x1="407.70" y1="190.24" x2="410.90" y2="190.24" stroke="#3aaa45" stroke-width="0.8" />
<line x1="407.70" y1="194.97" x2="410.90" y2="194.97" stroke="#3aaa45" stroke-width="0.8" />
<line x1="462.45" y1="196.54" x2="462.45" y2="202.84" stroke="#3aaa45" stroke-width="0.8" />
<line x1="460.85" y1="196.54" x2="464.05" y2="196.54" stroke="#3aaa45" stroke-width="0.8" />
<line x1="460.85" y1="202.84" x2="464.05" y2="202.84" stroke="#3aaa45" stroke-width="0.8" />
<line x1="489.03" y1="201.26" x2="489.03" y2="205.98" stroke="#3aaa45" stroke-width="0.8" />
<line x1="487.43" y1="201.26" x2="490.63" y2="201.26" stroke="#3aaa45" stroke-width="0.8" />
<line x1="487.43" y1="205.98" x2="490.63" y2="205.98" stroke="#3aaa45" stroke-width="0.8" />
<line x1="502.31" y1="214.01" x2="502.31" y2="218.73" stroke="#3aaa45" stroke-width="0.8" />
<line x1="500.71" y1="214.01" x2="503.91" y2="214.01" stroke="#3aaa45" stroke-width="0.8" />
<line x1="500.71" y1="218.73" x2="503.91" y2="218.73" stroke="#3aaa45" stroke-width="0.8" />
<line x1="508.96" y1="221.49" x2="508.96" y2="226.21" stroke="#3aaa45" stroke-width="0.8" />
<line x1="507.36" y1="221.49" x2="510.56" y2="221.49" stroke="#3aaa45" stroke-width="0.8" />
<line x1="507.36" y1="226.21" x2="510.56" y2="226.21" stroke="#3aaa45" stroke-width="0.8" />
<line x1="512.28" y1="231.95" x2="512.28" y2="238.25" stroke="#3aaa45" stroke-width="0.8" />
<line x1="510.68" y1="231.95" x2="513.88" y2="231.95" stroke="#3aaa45" stroke-width="0.8" />
<line x1="510.68" y1="238.25" x2="513.88" y2="238.25" stroke="#3aaa45" stroke-width="0.8" />
<line x1="409.30" y1="188.67" x2="409.30" y2="193.39" stroke="#4e2568" stroke-width="0.8" />
<line x1="407.70" y1="188.67" x2="410.90" y2="188.67" stroke="#4e2568" stroke-width="0.8" />
<line x1="407.70" y1="193.39" x2="410.90" y2="193.39" stroke="#4e2568" stroke-width="0.8" />
<line x1="462.45" y1="197.33" x2="462.45" y2="202.05" stroke="#4e2568" stroke-width="0.8" />
<line x1="460.85" y1="197.33" x2="464.05" y2="197.33" stroke="#4e2568" stroke-width="0.8" />
<line x1="460.85" y1="202.05" x2="464.05" y2="202.05" stroke="#4e2568" stroke-width="0.8" />
<line x1="489.03" y1="200.47" x2="489.03" y2="205.20" stroke="#4e2568" stroke-width="0.8" />
<line x1="487.43" y1="200.47" x2="490.63" y2="200.47" stroke="#4e2568" stroke-width="0.8" />
<line x1="487.43" y1="205.20" x2="490.63" y2="205.20" stroke="#4e2568" stroke-width="0.8" />
<line x1="502.31" y1="213.07" x2="502.31" y2="217.79" stroke="#4e2568" stroke-width="0.8" />
<line x1="500.71" y1="213.07" x2="503.91" y2="213.07" stroke="#4e2568" stroke-width="0.8" />
<line x1="500.71" y1="217.79" x2="503.91" y2="217.79" stroke="#4e2568" stroke-width="0.8" />
<line x1="508.96" y1="220.15" x2="508.96" y2="224.87" stroke="#4e2568" stroke-width="0.8" />
<line x1="507.36" y1="220.15" x2="510.56" y2="220.15" stroke="#4e2568" stroke-width="0.8" />
<line x1="507.36" y1="224.87" x2="510.56" y2="224.87" stroke="#4e2568" stroke-width="0.8" />
<line x1="512.28" y1="233.53" x2="512.28" y2="238.25" stroke="#4e2568" stroke-width="0.8" />
<line x1="510.68" y1="233.53" x2="513.88" y2="233.53" stroke="#4e2568" stroke-width="0.8" />
<line x1="510.68" y1="238.25" x2="513.88" y2="238.25" stroke="#4e2568" stroke-width="0.8" />
<line x1="409.30" y1="188.67" x2="409.30" y2="193.39" stroke="#1d5c9c" stroke-width="0.8" />
<line x1="407.70" y1="188.67" x2="410.90" y2="188.67" stroke="#1d5c9c" stroke-width="0.8" />
<line x1="407.70" y1="193.39" x2="410.90" y2="193.39" stroke="#1d5c9c" stroke-width="0.8" />
<line x1="462.45" y1="197.09" x2="462.45" y2="201.81" stroke="#1d5c9c" stroke-width="0.8" />
<line x1="460.85" y1="197.09" x2="464.05" y2="197.09" stroke="#1d5c9c" stroke-width="0.8" />
<line x1="460.85" y1="201.81" x2="464.05" y2="201.81" stroke="#1d5c9c" stroke-width="0.8" />
<line x1="489.03" y1="199.22" x2="489.03" y2="203.94" stroke="#1d5c9c" stroke-width="0.8" />
<line x1="487.43" y1="199.22" x2="490.63" y2="199.22" stroke="#1d5c9c" stroke-width="0.8" />
<line x1="487.43" y1="203.94" x2="490.63" y2="203.94" stroke="#1d5c9c" stroke-width="0.8" />
<line x1="502.31" y1="210.94" x2="502.31" y2="215.66" stroke="#1d5c9c" stroke-width="0.8" />
<line x1="500.71" y1="210.94" x2="503.91" y2="210.94" stroke="#1d5c9c" stroke-width="0.8" />
<line x1="500.71" y1="215.66" x2="503.91" y2="215.66" stroke="#1d5c9c" stroke-width="0.8" />
<line x1="508.96" y1="217.79" x2="508.96" y2="222.51" stroke="#1d5c9c" stroke-width="0.8" />
<line x1="507.36" y1="217.79" x2="510.56" y2="217.79" stroke="#1d5c9c" stroke-width="0.8" />
<line x1="507.36" y1="222.51" x2="510.56" y2="222.51" stroke="#1d5c9c" stroke-width="0.8" />
<line x1="512.28" y1="232.27" x2="512.28" y2="236.99" stroke="#1d5c9c" stroke-width="0.8" />
<line x1="510.68" y1="232.27" x2="513.88" y2="232.27" stroke="#1d5c9c" stroke-width="0.8" />
<line x1="510.68" y1="236.99" x2="513.88" y2="236.99" stroke="#1d5c9c" stroke-width="0.8" />
<text x="104.20" y="311.70" font-size="9.2" fill="#1a1a1a" stroke="#1a1a1a" stroke-width="0.1" text-anchor="middle" >Mec1 obinutuzumab</text>
<line x1="44.50" y1="311.20" x2="44.50" y2="394.20" stroke="#222" stroke-width="1" />
<line x1="43.70" y1="393.50" x2="164.20" y2="393.50" stroke="#222" stroke-width="1" />
<line x1="40.90" y1="393.50" x2="44.20" y2="393.50" stroke="#222" stroke-width="1" />
<text x="38.80" y="396.70" font-size="8.3" fill="#1a1a1a" stroke="#1a1a1a" stroke-width="0.1" text-anchor="end" >0</text>
<line x1="40.90" y1="377.50" x2="44.20" y2="377.50" stroke="#222" stroke-width="1" />
<text x="38.80" y="380.96" font-size="8.3" fill="#1a1a1a" stroke="#1a1a1a" stroke-width="0.1" text-anchor="end" >20</text>
<line x1="40.90" y1="362.50" x2="44.20" y2="362.50" stroke="#222" stroke-width="1" />
<text x="38.80" y="365.22" font-size="8.3" fill="#1a1a1a" stroke="#1a1a1a" stroke-width="0.1" text-anchor="end" >40</text>
<line x1="40.90" y1="346.50" x2="44.20" y2="346.50" stroke="#222" stroke-width="1" />
<text x="38.80" y="349.48" font-size="8.3" fill="#1a1a1a" stroke="#1a1a1a" stroke-width="0.1" text-anchor="end" >60</text>
<line x1="40.90" y1="330.50" x2="44.20" y2="330.50" stroke="#222" stroke-width="1" />
<text x="38.80" y="333.74" font-size="8.3" fill="#1a1a1a" stroke="#1a1a1a" stroke-width="0.1" text-anchor="end" >80</text>
<line x1="40.90" y1="315.50" x2="44.20" y2="315.50" stroke="#222" stroke-width="1" />
<text x="38.80" y="318.00" font-size="8.3" fill="#1a1a1a" stroke="#1a1a1a" stroke-width="0.1" text-anchor="end" >100</text>
<line x1="54.50" y1="393.70" x2="54.50" y2="396.70" stroke="#222" stroke-width="1" />
<text x="54.70" y="405.70" font-size="8.3" fill="#1a1a1a" stroke="#1a1a1a" stroke-width="0.1" text-anchor="middle" >10</text>
<line x1="107.50" y1="393.70" x2="107.50" y2="396.70" stroke="#222" stroke-width="1" />
<text x="107.85" y="405.70" font-size="8.3" fill="#1a1a1a" stroke="#1a1a1a" stroke-width="0.1" text-anchor="middle" >5</text>
<line x1="161.50" y1="393.70" x2="161.50" y2="396.70" stroke="#222" stroke-width="1" />
<text x="161.00" y="405.70" font-size="8.3" fill="#1a1a1a" stroke="#1a1a1a" stroke-width="0.1" text-anchor="middle" >0</text>
<text x="106.40" y="418.70" font-size="9.3" fill="#222" text-anchor="middle" font-weight="700" textLength="37" lengthAdjust="spacingAndGlyphs" >NK:CLL ratio</text>
<text x="0.00" y="0.00" font-size="8.5" fill="#222" text-anchor="middle" font-weight="700" textLength="27.5" lengthAdjust="spacingAndGlyphs" transform="translate(19.90,353.35) rotate(-90)" >% Killing</text>
<polyline points="54.70,323.66 107.85,330.74 134.43,331.92 147.71,342.54 154.36,349.63 157.68,362.22" fill="none" stroke="#f2a32c" stroke-width="1.3" stroke-linejoin="round"/>
<polyline points="54.70,323.66 107.85,331.13 134.43,332.55 147.71,343.33 154.36,350.41 157.68,363.79" fill="none" stroke="#c9163f" stroke-width="1.3" stroke-linejoin="round"/>
<polyline points="54.70,324.84 107.85,329.95 134.43,331.53 147.71,344.91 154.36,349.63 157.68,359.07" fill="none" stroke="#3aaa45" stroke-width="1.3" stroke-linejoin="round"/>
<polyline points="54.70,324.05 107.85,329.56 134.43,331.13 147.71,341.76 154.36,348.45 157.68,359.07" fill="none" stroke="#4e2568" stroke-width="1.3" stroke-linejoin="round"/>
<polyline points="54.70,324.44 107.85,329.56 134.43,331.53 147.71,341.92 154.36,348.84 157.68,359.23" fill="none" stroke="#1d5c9c" stroke-width="1.3" stroke-linejoin="round"/>
<line x1="54.70" y1="320.51" x2="54.70" y2="326.81" stroke="#f2a32c" stroke-width="0.8" />
<line x1="53.10" y1="320.51" x2="56.30" y2="320.51" stroke="#f2a32c" stroke-width="0.8" />
<line x1="53.10" y1="326.81" x2="56.30" y2="326.81" stroke="#f2a32c" stroke-width="0.8" />
<line x1="107.85" y1="328.38" x2="107.85" y2="333.10" stroke="#f2a32c" stroke-width="0.8" />
<line x1="106.25" y1="328.38" x2="109.45" y2="328.38" stroke="#f2a32c" stroke-width="0.8" />
<line x1="106.25" y1="333.10" x2="109.45" y2="333.10" stroke="#f2a32c" stroke-width="0.8" />
<line x1="134.43" y1="329.56" x2="134.43" y2="334.28" stroke="#f2a32c" stroke-width="0.8" />
<line x1="132.83" y1="329.56" x2="136.03" y2="329.56" stroke="#f2a32c" stroke-width="0.8" />
<line x1="132.83" y1="334.28" x2="136.03" y2="334.28" stroke="#f2a32c" stroke-width="0.8" />
<line x1="147.71" y1="340.18" x2="147.71" y2="344.91" stroke="#f2a32c" stroke-width="0.8" />
<line x1="146.11" y1="340.18" x2="149.31" y2="340.18" stroke="#f2a32c" stroke-width="0.8" />
<line x1="146.11" y1="344.91" x2="149.31" y2="344.91" stroke="#f2a32c" stroke-width="0.8" />
<line x1="154.36" y1="347.27" x2="154.36" y2="351.99" stroke="#f2a32c" stroke-width="0.8" />
<line x1="152.76" y1="347.27" x2="155.96" y2="347.27" stroke="#f2a32c" stroke-width="0.8" />
<line x1="152.76" y1="351.99" x2="155.96" y2="351.99" stroke="#f2a32c" stroke-width="0.8" />
<line x1="157.68" y1="359.07" x2="157.68" y2="365.37" stroke="#f2a32c" stroke-width="0.8" />
<line x1="156.08" y1="359.07" x2="159.28" y2="359.07" stroke="#f2a32c" stroke-width="0.8" />
<line x1="156.08" y1="365.37" x2="159.28" y2="365.37" stroke="#f2a32c" stroke-width="0.8" />
<line x1="54.70" y1="321.30" x2="54.70" y2="326.02" stroke="#c9163f" stroke-width="0.8" />
<line x1="53.10" y1="321.30" x2="56.30" y2="321.30" stroke="#c9163f" stroke-width="0.8" />
<line x1="53.10" y1="326.02" x2="56.30" y2="326.02" stroke="#c9163f" stroke-width="0.8" />
<line x1="107.85" y1="328.77" x2="107.85" y2="333.49" stroke="#c9163f" stroke-width="0.8" />
<line x1="106.25" y1="328.77" x2="109.45" y2="328.77" stroke="#c9163f" stroke-width="0.8" />
<line x1="106.25" y1="333.49" x2="109.45" y2="333.49" stroke="#c9163f" stroke-width="0.8" />
<line x1="134.43" y1="330.19" x2="134.43" y2="334.91" stroke="#c9163f" stroke-width="0.8" />
<line x1="132.83" y1="330.19" x2="136.03" y2="330.19" stroke="#c9163f" stroke-width="0.8" />
<line x1="132.83" y1="334.91" x2="136.03" y2="334.91" stroke="#c9163f" stroke-width="0.8" />
<line x1="147.71" y1="340.97" x2="147.71" y2="345.69" stroke="#c9163f" stroke-width="0.8" />
<line x1="146.11" y1="340.97" x2="149.31" y2="340.97" stroke="#c9163f" stroke-width="0.8" />
<line x1="146.11" y1="345.69" x2="149.31" y2="345.69" stroke="#c9163f" stroke-width="0.8" />
<line x1="154.36" y1="347.27" x2="154.36" y2="353.56" stroke="#c9163f" stroke-width="0.8" />
<line x1="152.76" y1="347.27" x2="155.96" y2="347.27" stroke="#c9163f" stroke-width="0.8" />
<line x1="152.76" y1="353.56" x2="155.96" y2="353.56" stroke="#c9163f" stroke-width="0.8" />
<line x1="157.68" y1="359.86" x2="157.68" y2="367.73" stroke="#c9163f" stroke-width="0.8" />
<line x1="156.08" y1="359.86" x2="159.28" y2="359.86" stroke="#c9163f" stroke-width="0.8" />
<line x1="156.08" y1="367.73" x2="159.28" y2="367.73" stroke="#c9163f" stroke-width="0.8" />
<line x1="54.70" y1="322.48" x2="54.70" y2="327.20" stroke="#3aaa45" stroke-width="0.8" />
<line x1="53.10" y1="322.48" x2="56.30" y2="322.48" stroke="#3aaa45" stroke-width="0.8" />
<line x1="53.10" y1="327.20" x2="56.30" y2="327.20" stroke="#3aaa45" stroke-width="0.8" />
<line x1="107.85" y1="328.38" x2="107.85" y2="331.53" stroke="#3aaa45" stroke-width="0.8" />
<line x1="106.25" y1="328.38" x2="109.45" y2="328.38" stroke="#3aaa45" stroke-width="0.8" />
<line x1="106.25" y1="331.53" x2="109.45" y2="331.53" stroke="#3aaa45" stroke-width="0.8" />
<line x1="134.43" y1="329.17" x2="134.43" y2="333.89" stroke="#3aaa45" stroke-width="0.8" />
<line x1="132.83" y1="329.17" x2="136.03" y2="329.17" stroke="#3aaa45" stroke-width="0.8" />
<line x1="132.83" y1="333.89" x2="136.03" y2="333.89" stroke="#3aaa45" stroke-width="0.8" />
<line x1="147.71" y1="342.54" x2="147.71" y2="347.27" stroke="#3aaa45" stroke-width="0.8" />
<line x1="146.11" y1="342.54" x2="149.31" y2="342.54" stroke="#3aaa45" stroke-width="0.8" />
<line x1="146.11" y1="347.27" x2="149.31" y2="347.27" stroke="#3aaa45" stroke-width="0.8" />
<line x1="154.36" y1="347.27" x2="154.36" y2="351.99" stroke="#3aaa45" stroke-width="0.8" />
<line x1="152.76" y1="347.27" x2="155.96" y2="347.27" stroke="#3aaa45" stroke-width="0.8" />
<line x1="152.76" y1="351.99" x2="155.96" y2="351.99" stroke="#3aaa45" stroke-width="0.8" />
<line x1="157.68" y1="355.92" x2="157.68" y2="362.22" stroke="#3aaa45" stroke-width="0.8" />
<line x1="156.08" y1="355.92" x2="159.28" y2="355.92" stroke="#3aaa45" stroke-width="0.8" />
<line x1="156.08" y1="362.22" x2="159.28" y2="362.22" stroke="#3aaa45" stroke-width="0.8" />
<line x1="54.70" y1="321.69" x2="54.70" y2="326.41" stroke="#4e2568" stroke-width="0.8" />
<line x1="53.10" y1="321.69" x2="56.30" y2="321.69" stroke="#4e2568" stroke-width="0.8" />
<line x1="53.10" y1="326.41" x2="56.30" y2="326.41" stroke="#4e2568" stroke-width="0.8" />
<line x1="107.85" y1="327.99" x2="107.85" y2="331.13" stroke="#4e2568" stroke-width="0.8" />
<line x1="106.25" y1="327.99" x2="109.45" y2="327.99" stroke="#4e2568" stroke-width="0.8" />
<line x1="106.25" y1="331.13" x2="109.45" y2="331.13" stroke="#4e2568" stroke-width="0.8" />
<line x1="134.43" y1="327.99" x2="134.43" y2="334.28" stroke="#4e2568" stroke-width="0.8" />
<line x1="132.83" y1="327.99" x2="136.03" y2="327.99" stroke="#4e2568" stroke-width="0.8" />
<line x1="132.83" y1="334.28" x2="136.03" y2="334.28" stroke="#4e2568" stroke-width="0.8" />
<line x1="147.71" y1="338.61" x2="147.71" y2="344.91" stroke="#4e2568" stroke-width="0.8" />
<line x1="146.11" y1="338.61" x2="149.31" y2="338.61" stroke="#4e2568" stroke-width="0.8" />
<line x1="146.11" y1="344.91" x2="149.31" y2="344.91" stroke="#4e2568" stroke-width="0.8" />
<line x1="154.36" y1="345.30" x2="154.36" y2="351.60" stroke="#4e2568" stroke-width="0.8" />
<line x1="152.76" y1="345.30" x2="155.96" y2="345.30" stroke="#4e2568" stroke-width="0.8" />
<line x1="152.76" y1="351.60" x2="155.96" y2="351.60" stroke="#4e2568" stroke-width="0.8" />
<line x1="157.68" y1="355.92" x2="157.68" y2="362.22" stroke="#4e2568" stroke-width="0.8" />
<line x1="156.08" y1="355.92" x2="159.28" y2="355.92" stroke="#4e2568" stroke-width="0.8" />
<line x1="156.08" y1="362.22" x2="159.28" y2="362.22" stroke="#4e2568" stroke-width="0.8" />
<line x1="54.70" y1="322.08" x2="54.70" y2="326.81" stroke="#1d5c9c" stroke-width="0.8" />
<line x1="53.10" y1="322.08" x2="56.30" y2="322.08" stroke="#1d5c9c" stroke-width="0.8" />
<line x1="53.10" y1="326.81" x2="56.30" y2="326.81" stroke="#1d5c9c" stroke-width="0.8" />
<line x1="107.85" y1="327.99" x2="107.85" y2="331.13" stroke="#1d5c9c" stroke-width="0.8" />
<line x1="106.25" y1="327.99" x2="109.45" y2="327.99" stroke="#1d5c9c" stroke-width="0.8" />
<line x1="106.25" y1="331.13" x2="109.45" y2="331.13" stroke="#1d5c9c" stroke-width="0.8" />
<line x1="134.43" y1="329.17" x2="134.43" y2="333.89" stroke="#1d5c9c" stroke-width="0.8" />
<line x1="132.83" y1="329.17" x2="136.03" y2="329.17" stroke="#1d5c9c" stroke-width="0.8" />
<line x1="132.83" y1="333.89" x2="136.03" y2="333.89" stroke="#1d5c9c" stroke-width="0.8" />
<line x1="147.71" y1="339.55" x2="147.71" y2="344.28" stroke="#1d5c9c" stroke-width="0.8" />
<line x1="146.11" y1="339.55" x2="149.31" y2="339.55" stroke="#1d5c9c" stroke-width="0.8" />
<line x1="146.11" y1="344.28" x2="149.31" y2="344.28" stroke="#1d5c9c" stroke-width="0.8" />
<line x1="154.36" y1="346.48" x2="154.36" y2="351.20" stroke="#1d5c9c" stroke-width="0.8" />
<line x1="152.76" y1="346.48" x2="155.96" y2="346.48" stroke="#1d5c9c" stroke-width="0.8" />
<line x1="152.76" y1="351.20" x2="155.96" y2="351.20" stroke="#1d5c9c" stroke-width="0.8" />
<line x1="157.68" y1="356.08" x2="157.68" y2="362.38" stroke="#1d5c9c" stroke-width="0.8" />
<line x1="156.08" y1="356.08" x2="159.28" y2="356.08" stroke="#1d5c9c" stroke-width="0.8" />
<line x1="156.08" y1="362.38" x2="159.28" y2="362.38" stroke="#1d5c9c" stroke-width="0.8" />
<text x="281.50" y="311.70" font-size="9.2" fill="#1a1a1a" stroke="#1a1a1a" stroke-width="0.1" text-anchor="middle" >OSU-CLL obinutuzumab</text>
<line x1="221.50" y1="311.20" x2="221.50" y2="394.20" stroke="#222" stroke-width="1" />
<line x1="221.00" y1="393.50" x2="341.50" y2="393.50" stroke="#222" stroke-width="1" />
<line x1="218.20" y1="393.50" x2="221.50" y2="393.50" stroke="#222" stroke-width="1" />
<text x="216.10" y="396.70" font-size="8.3" fill="#1a1a1a" stroke="#1a1a1a" stroke-width="0.1" text-anchor="end" >0</text>
<line x1="218.20" y1="377.50" x2="221.50" y2="377.50" stroke="#222" stroke-width="1" />
<text x="216.10" y="380.96" font-size="8.3" fill="#1a1a1a" stroke="#1a1a1a" stroke-width="0.1" text-anchor="end" >20</text>
<line x1="218.20" y1="362.50" x2="221.50" y2="362.50" stroke="#222" stroke-width="1" />
<text x="216.10" y="365.22" font-size="8.3" fill="#1a1a1a" stroke="#1a1a1a" stroke-width="0.1" text-anchor="end" >40</text>
<line x1="218.20" y1="346.50" x2="221.50" y2="346.50" stroke="#222" stroke-width="1" />
<text x="216.10" y="349.48" font-size="8.3" fill="#1a1a1a" stroke="#1a1a1a" stroke-width="0.1" text-anchor="end" >60</text>
<line x1="218.20" y1="330.50" x2="221.50" y2="330.50" stroke="#222" stroke-width="1" />
<text x="216.10" y="333.74" font-size="8.3" fill="#1a1a1a" stroke="#1a1a1a" stroke-width="0.1" text-anchor="end" >80</text>
<line x1="218.20" y1="315.50" x2="221.50" y2="315.50" stroke="#222" stroke-width="1" />
<text x="216.10" y="318.00" font-size="8.3" fill="#1a1a1a" stroke="#1a1a1a" stroke-width="0.1" text-anchor="end" >100</text>
<line x1="232.50" y1="393.70" x2="232.50" y2="396.70" stroke="#222" stroke-width="1" />
<text x="232.00" y="405.70" font-size="8.3" fill="#1a1a1a" stroke="#1a1a1a" stroke-width="0.1" text-anchor="middle" >10</text>
<line x1="285.50" y1="393.70" x2="285.50" y2="396.70" stroke="#222" stroke-width="1" />
<text x="285.15" y="405.70" font-size="8.3" fill="#1a1a1a" stroke="#1a1a1a" stroke-width="0.1" text-anchor="middle" >5</text>
<line x1="338.50" y1="393.70" x2="338.50" y2="396.70" stroke="#222" stroke-width="1" />
<text x="338.30" y="405.70" font-size="8.3" fill="#1a1a1a" stroke="#1a1a1a" stroke-width="0.1" text-anchor="middle" >0</text>
<text x="283.70" y="418.70" font-size="9.3" fill="#222" text-anchor="middle" font-weight="700" textLength="37" lengthAdjust="spacingAndGlyphs" >NK:CLL ratio</text>
<text x="0.00" y="0.00" font-size="8.5" fill="#222" text-anchor="middle" font-weight="700" textLength="27.5" lengthAdjust="spacingAndGlyphs" transform="translate(197.20,353.35) rotate(-90)" >% Killing</text>
<polyline points="232.00,324.84 285.15,331.92 311.73,333.89 325.01,345.69 331.66,351.99 334.98,365.37" fill="none" stroke="#f2a32c" stroke-width="1.3" stroke-linejoin="round"/>
<polyline points="232.00,325.23 285.15,332.71 311.73,335.46 325.01,345.69 331.66,352.78 334.98,365.37" fill="none" stroke="#c9163f" stroke-width="1.3" stroke-linejoin="round"/>
<polyline points="232.00,324.84 285.15,331.53 311.73,332.31 325.01,344.91 331.66,351.99 334.98,366.15" fill="none" stroke="#3aaa45" stroke-width="1.3" stroke-linejoin="round"/>
<polyline points="232.00,324.44 285.15,331.53 311.73,333.89 325.01,344.91 331.66,351.20 334.98,365.37" fill="none" stroke="#4e2568" stroke-width="1.3" stroke-linejoin="round"/>
<polyline points="232.00,324.44 285.15,331.13 311.73,332.31 325.01,344.91 331.66,351.99 334.98,366.15" fill="none" stroke="#1d5c9c" stroke-width="1.3" stroke-linejoin="round"/>
<line x1="232.00" y1="322.48" x2="232.00" y2="327.20" stroke="#f2a32c" stroke-width="0.8" />
<line x1="230.40" y1="322.48" x2="233.60" y2="322.48" stroke="#f2a32c" stroke-width="0.8" />
<line x1="230.40" y1="327.20" x2="233.60" y2="327.20" stroke="#f2a32c" stroke-width="0.8" />
<line x1="285.15" y1="330.35" x2="285.15" y2="333.49" stroke="#f2a32c" stroke-width="0.8" />
<line x1="283.55" y1="330.35" x2="286.75" y2="330.35" stroke="#f2a32c" stroke-width="0.8" />
<line x1="283.55" y1="333.49" x2="286.75" y2="333.49" stroke="#f2a32c" stroke-width="0.8" />
<line x1="311.73" y1="331.53" x2="311.73" y2="336.25" stroke="#f2a32c" stroke-width="0.8" />
<line x1="310.12" y1="331.53" x2="313.33" y2="331.53" stroke="#f2a32c" stroke-width="0.8" />
<line x1="310.12" y1="336.25" x2="313.33" y2="336.25" stroke="#f2a32c" stroke-width="0.8" />
<line x1="325.01" y1="343.33" x2="325.01" y2="348.05" stroke="#f2a32c" stroke-width="0.8" />
<line x1="323.41" y1="343.33" x2="326.61" y2="343.33" stroke="#f2a32c" stroke-width="0.8" />
<line x1="323.41" y1="348.05" x2="326.61" y2="348.05" stroke="#f2a32c" stroke-width="0.8" />
<line x1="331.66" y1="348.05" x2="331.66" y2="355.92" stroke="#f2a32c" stroke-width="0.8" />
<line x1="330.06" y1="348.05" x2="333.26" y2="348.05" stroke="#f2a32c" stroke-width="0.8" />
<line x1="330.06" y1="355.92" x2="333.26" y2="355.92" stroke="#f2a32c" stroke-width="0.8" />
<line x1="334.98" y1="362.22" x2="334.98" y2="368.52" stroke="#f2a32c" stroke-width="0.8" />
<line x1="333.38" y1="362.22" x2="336.58" y2="362.22" stroke="#f2a32c" stroke-width="0.8" />
<line x1="333.38" y1="368.52" x2="336.58" y2="368.52" stroke="#f2a32c" stroke-width="0.8" />
<line x1="232.00" y1="322.87" x2="232.00" y2="327.59" stroke="#c9163f" stroke-width="0.8" />
<line x1="230.40" y1="322.87" x2="233.60" y2="322.87" stroke="#c9163f" stroke-width="0.8" />
<line x1="230.40" y1="327.59" x2="233.60" y2="327.59" stroke="#c9163f" stroke-width="0.8" />
<line x1="285.15" y1="331.13" x2="285.15" y2="334.28" stroke="#c9163f" stroke-width="0.8" />
<line x1="283.55" y1="331.13" x2="286.75" y2="331.13" stroke="#c9163f" stroke-width="0.8" />
<line x1="283.55" y1="334.28" x2="286.75" y2="334.28" stroke="#c9163f" stroke-width="0.8" />
<line x1="311.73" y1="333.10" x2="311.73" y2="337.82" stroke="#c9163f" stroke-width="0.8" />
<line x1="310.12" y1="333.10" x2="313.33" y2="333.10" stroke="#c9163f" stroke-width="0.8" />
<line x1="310.12" y1="337.82" x2="313.33" y2="337.82" stroke="#c9163f" stroke-width="0.8" />
<line x1="325.01" y1="343.33" x2="325.01" y2="348.05" stroke="#c9163f" stroke-width="0.8" />
<line x1="323.41" y1="343.33" x2="326.61" y2="343.33" stroke="#c9163f" stroke-width="0.8" />
<line x1="323.41" y1="348.05" x2="326.61" y2="348.05" stroke="#c9163f" stroke-width="0.8" />
<line x1="331.66" y1="350.41" x2="331.66" y2="355.14" stroke="#c9163f" stroke-width="0.8" />
<line x1="330.06" y1="350.41" x2="333.26" y2="350.41" stroke="#c9163f" stroke-width="0.8" />
<line x1="330.06" y1="355.14" x2="333.26" y2="355.14" stroke="#c9163f" stroke-width="0.8" />
<line x1="334.98" y1="362.22" x2="334.98" y2="368.52" stroke="#c9163f" stroke-width="0.8" />
<line x1="333.38" y1="362.22" x2="336.58" y2="362.22" stroke="#c9163f" stroke-width="0.8" />
<line x1="333.38" y1="368.52" x2="336.58" y2="368.52" stroke="#c9163f" stroke-width="0.8" />
<line x1="232.00" y1="322.48" x2="232.00" y2="327.20" stroke="#3aaa45" stroke-width="0.8" />
<line x1="230.40" y1="322.48" x2="233.60" y2="322.48" stroke="#3aaa45" stroke-width="0.8" />
<line x1="230.40" y1="327.20" x2="233.60" y2="327.20" stroke="#3aaa45" stroke-width="0.8" />
<line x1="285.15" y1="329.95" x2="285.15" y2="333.10" stroke="#3aaa45" stroke-width="0.8" />
<line x1="283.55" y1="329.95" x2="286.75" y2="329.95" stroke="#3aaa45" stroke-width="0.8" />
<line x1="283.55" y1="333.10" x2="286.75" y2="333.10" stroke="#3aaa45" stroke-width="0.8" />
<line x1="311.73" y1="329.95" x2="311.73" y2="334.67" stroke="#3aaa45" stroke-width="0.8" />
<line x1="310.12" y1="329.95" x2="313.33" y2="329.95" stroke="#3aaa45" stroke-width="0.8" />
<line x1="310.12" y1="334.67" x2="313.33" y2="334.67" stroke="#3aaa45" stroke-width="0.8" />
<line x1="325.01" y1="342.54" x2="325.01" y2="347.27" stroke="#3aaa45" stroke-width="0.8" />
<line x1="323.41" y1="342.54" x2="326.61" y2="342.54" stroke="#3aaa45" stroke-width="0.8" />
<line x1="323.41" y1="347.27" x2="326.61" y2="347.27" stroke="#3aaa45" stroke-width="0.8" />
<line x1="331.66" y1="349.63" x2="331.66" y2="354.35" stroke="#3aaa45" stroke-width="0.8" />
<line x1="330.06" y1="349.63" x2="333.26" y2="349.63" stroke="#3aaa45" stroke-width="0.8" />
<line x1="330.06" y1="354.35" x2="333.26" y2="354.35" stroke="#3aaa45" stroke-width="0.8" />
<line x1="334.98" y1="363.01" x2="334.98" y2="369.30" stroke="#3aaa45" stroke-width="0.8" />
<line x1="333.38" y1="363.01" x2="336.58" y2="363.01" stroke="#3aaa45" stroke-width="0.8" />
<line x1="333.38" y1="369.30" x2="336.58" y2="369.30" stroke="#3aaa45" stroke-width="0.8" />
<line x1="232.00" y1="321.30" x2="232.00" y2="327.59" stroke="#4e2568" stroke-width="0.8" />
<line x1="230.40" y1="321.30" x2="233.60" y2="321.30" stroke="#4e2568" stroke-width="0.8" />
<line x1="230.40" y1="327.59" x2="233.60" y2="327.59" stroke="#4e2568" stroke-width="0.8" />
<line x1="285.15" y1="329.95" x2="285.15" y2="333.10" stroke="#4e2568" stroke-width="0.8" />
<line x1="283.55" y1="329.95" x2="286.75" y2="329.95" stroke="#4e2568" stroke-width="0.8" />
<line x1="283.55" y1="333.10" x2="286.75" y2="333.10" stroke="#4e2568" stroke-width="0.8" />
<line x1="311.73" y1="330.74" x2="311.73" y2="337.04" stroke="#4e2568" stroke-width="0.8" />
<line x1="310.12" y1="330.74" x2="313.33" y2="330.74" stroke="#4e2568" stroke-width="0.8" />
<line x1="310.12" y1="337.04" x2="313.33" y2="337.04" stroke="#4e2568" stroke-width="0.8" />
<line x1="325.01" y1="342.54" x2="325.01" y2="347.27" stroke="#4e2568" stroke-width="0.8" />
<line x1="323.41" y1="342.54" x2="326.61" y2="342.54" stroke="#4e2568" stroke-width="0.8" />
<line x1="323.41" y1="347.27" x2="326.61" y2="347.27" stroke="#4e2568" stroke-width="0.8" />
<line x1="331.66" y1="348.84" x2="331.66" y2="353.56" stroke="#4e2568" stroke-width="0.8" />
<line x1="330.06" y1="348.84" x2="333.26" y2="348.84" stroke="#4e2568" stroke-width="0.8" />
<line x1="330.06" y1="353.56" x2="333.26" y2="353.56" stroke="#4e2568" stroke-width="0.8" />
<line x1="334.98" y1="362.22" x2="334.98" y2="368.52" stroke="#4e2568" stroke-width="0.8" />
<line x1="333.38" y1="362.22" x2="336.58" y2="362.22" stroke="#4e2568" stroke-width="0.8" />
<line x1="333.38" y1="368.52" x2="336.58" y2="368.52" stroke="#4e2568" stroke-width="0.8" />
<line x1="232.00" y1="322.08" x2="232.00" y2="326.81" stroke="#1d5c9c" stroke-width="0.8" />
<line x1="230.40" y1="322.08" x2="233.60" y2="322.08" stroke="#1d5c9c" stroke-width="0.8" />
<line x1="230.40" y1="326.81" x2="233.60" y2="326.81" stroke="#1d5c9c" stroke-width="0.8" />
<line x1="285.15" y1="329.56" x2="285.15" y2="332.71" stroke="#1d5c9c" stroke-width="0.8" />
<line x1="283.55" y1="329.56" x2="286.75" y2="329.56" stroke="#1d5c9c" stroke-width="0.8" />
<line x1="283.55" y1="332.71" x2="286.75" y2="332.71" stroke="#1d5c9c" stroke-width="0.8" />
<line x1="311.73" y1="329.95" x2="311.73" y2="334.67" stroke="#1d5c9c" stroke-width="0.8" />
<line x1="310.12" y1="329.95" x2="313.33" y2="329.95" stroke="#1d5c9c" stroke-width="0.8" />
<line x1="310.12" y1="334.67" x2="313.33" y2="334.67" stroke="#1d5c9c" stroke-width="0.8" />
<line x1="325.01" y1="342.54" x2="325.01" y2="347.27" stroke="#1d5c9c" stroke-width="0.8" />
<line x1="323.41" y1="342.54" x2="326.61" y2="342.54" stroke="#1d5c9c" stroke-width="0.8" />
<line x1="323.41" y1="347.27" x2="326.61" y2="347.27" stroke="#1d5c9c" stroke-width="0.8" />
<line x1="331.66" y1="349.63" x2="331.66" y2="354.35" stroke="#1d5c9c" stroke-width="0.8" />
<line x1="330.06" y1="349.63" x2="333.26" y2="349.63" stroke="#1d5c9c" stroke-width="0.8" />
<line x1="330.06" y1="354.35" x2="333.26" y2="354.35" stroke="#1d5c9c" stroke-width="0.8" />
<line x1="334.98" y1="363.79" x2="334.98" y2="368.52" stroke="#1d5c9c" stroke-width="0.8" />
<line x1="333.38" y1="363.79" x2="336.58" y2="363.79" stroke="#1d5c9c" stroke-width="0.8" />
<line x1="333.38" y1="368.52" x2="336.58" y2="368.52" stroke="#1d5c9c" stroke-width="0.8" />
<text x="458.80" y="311.70" font-size="9.2" fill="#1a1a1a" stroke="#1a1a1a" stroke-width="0.1" text-anchor="middle" >HG3 obinutuzumab</text>
<line x1="398.50" y1="311.20" x2="398.50" y2="394.20" stroke="#222" stroke-width="1" />
<line x1="398.30" y1="393.50" x2="520.30" y2="393.50" stroke="#222" stroke-width="1" />
<line x1="395.50" y1="393.50" x2="398.80" y2="393.50" stroke="#222" stroke-width="1" />
<text x="393.40" y="396.70" font-size="8.3" fill="#1a1a1a" stroke="#1a1a1a" stroke-width="0.1" text-anchor="end" >0</text>
<line x1="395.50" y1="377.50" x2="398.80" y2="377.50" stroke="#222" stroke-width="1" />
<text x="393.40" y="380.96" font-size="8.3" fill="#1a1a1a" stroke="#1a1a1a" stroke-width="0.1" text-anchor="end" >20</text>
<line x1="395.50" y1="362.50" x2="398.80" y2="362.50" stroke="#222" stroke-width="1" />
<text x="393.40" y="365.22" font-size="8.3" fill="#1a1a1a" stroke="#1a1a1a" stroke-width="0.1" text-anchor="end" >40</text>
<line x1="395.50" y1="346.50" x2="398.80" y2="346.50" stroke="#222" stroke-width="1" />
<text x="393.40" y="349.48" font-size="8.3" fill="#1a1a1a" stroke="#1a1a1a" stroke-width="0.1" text-anchor="end" >60</text>
<line x1="395.50" y1="330.50" x2="398.80" y2="330.50" stroke="#222" stroke-width="1" />
<text x="393.40" y="333.74" font-size="8.3" fill="#1a1a1a" stroke="#1a1a1a" stroke-width="0.1" text-anchor="end" >80</text>
<line x1="395.50" y1="315.50" x2="398.80" y2="315.50" stroke="#222" stroke-width="1" />
<text x="393.40" y="318.00" font-size="8.3" fill="#1a1a1a" stroke="#1a1a1a" stroke-width="0.1" text-anchor="end" >100</text>
<line x1="409.50" y1="393.70" x2="409.50" y2="396.70" stroke="#222" stroke-width="1" />
<text x="409.30" y="405.70" font-size="8.3" fill="#1a1a1a" stroke="#1a1a1a" stroke-width="0.1" text-anchor="middle" >10</text>
<line x1="462.50" y1="393.70" x2="462.50" y2="396.70" stroke="#222" stroke-width="1" />
<text x="462.45" y="405.70" font-size="8.3" fill="#1a1a1a" stroke="#1a1a1a" stroke-width="0.1" text-anchor="middle" >5</text>
<line x1="515.50" y1="393.70" x2="515.50" y2="396.70" stroke="#222" stroke-width="1" />
<text x="515.60" y="405.70" font-size="8.3" fill="#1a1a1a" stroke="#1a1a1a" stroke-width="0.1" text-anchor="middle" >0</text>
<text x="461.00" y="418.70" font-size="9.3" fill="#222" text-anchor="middle" font-weight="700" textLength="37" lengthAdjust="spacingAndGlyphs" >NK:CLL ratio</text>
<text x="0.00" y="0.00" font-size="8.5" fill="#222" text-anchor="middle" font-weight="700" textLength="27.5" lengthAdjust="spacingAndGlyphs" transform="translate(374.50,353.35) rotate(-90)" >% Killing</text>
<polyline points="409.30,324.44 462.45,330.74 489.03,332.31 502.31,341.76 508.96,350.41 512.28,370.09" fill="none" stroke="#f2a32c" stroke-width="1.3" stroke-linejoin="round"/>
<polyline points="409.30,323.66 462.45,330.74 489.03,332.71 502.31,341.92 508.96,352.78 512.28,373.24" fill="none" stroke="#c9163f" stroke-width="1.3" stroke-linejoin="round"/>
<polyline points="409.30,323.66 462.45,330.27 489.03,332.31 502.31,340.18 508.96,348.05 512.28,367.73" fill="none" stroke="#3aaa45" stroke-width="1.3" stroke-linejoin="round"/>
<polyline points="409.30,321.30 462.45,328.38 489.03,329.95 502.31,339.40 508.96,347.27 512.28,369.30" fill="none" stroke="#4e2568" stroke-width="1.3" stroke-linejoin="round"/>
<polyline points="409.30,320.82 462.45,327.59 489.03,329.17 502.31,338.14 508.96,345.69 512.28,368.75" fill="none" stroke="#1d5c9c" stroke-width="1.3" stroke-linejoin="round"/>
<line x1="409.30" y1="320.51" x2="409.30" y2="328.38" stroke="#f2a32c" stroke-width="0.8" />
<line x1="407.70" y1="320.51" x2="410.90" y2="320.51" stroke="#f2a32c" stroke-width="0.8" />
<line x1="407.70" y1="328.38" x2="410.90" y2="328.38" stroke="#f2a32c" stroke-width="0.8" />
<line x1="462.45" y1="328.38" x2="462.45" y2="333.10" stroke="#f2a32c" stroke-width="0.8" />
<line x1="460.85" y1="328.38" x2="464.05" y2="328.38" stroke="#f2a32c" stroke-width="0.8" />
<line x1="460.85" y1="333.10" x2="464.05" y2="333.10" stroke="#f2a32c" stroke-width="0.8" />
<line x1="489.03" y1="326.81" x2="489.03" y2="337.82" stroke="#f2a32c" stroke-width="0.8" />
<line x1="487.43" y1="326.81" x2="490.63" y2="326.81" stroke="#f2a32c" stroke-width="0.8" />
<line x1="487.43" y1="337.82" x2="490.63" y2="337.82" stroke="#f2a32c" stroke-width="0.8" />
<line x1="502.31" y1="334.67" x2="502.31" y2="348.84" stroke="#f2a32c" stroke-width="0.8" />
<line x1="500.71" y1="334.67" x2="503.91" y2="334.67" stroke="#f2a32c" stroke-width="0.8" />
<line x1="500.71" y1="348.84" x2="503.91" y2="348.84" stroke="#f2a32c" stroke-width="0.8" />
<line x1="508.96" y1="347.27" x2="508.96" y2="353.56" stroke="#f2a32c" stroke-width="0.8" />
<line x1="507.36" y1="347.27" x2="510.56" y2="347.27" stroke="#f2a32c" stroke-width="0.8" />
<line x1="507.36" y1="353.56" x2="510.56" y2="353.56" stroke="#f2a32c" stroke-width="0.8" />
<line x1="512.28" y1="366.94" x2="512.28" y2="373.24" stroke="#f2a32c" stroke-width="0.8" />
<line x1="510.68" y1="366.94" x2="513.88" y2="366.94" stroke="#f2a32c" stroke-width="0.8" />
<line x1="510.68" y1="373.24" x2="513.88" y2="373.24" stroke="#f2a32c" stroke-width="0.8" />
<line x1="409.30" y1="320.51" x2="409.30" y2="326.81" stroke="#c9163f" stroke-width="0.8" />
<line x1="407.70" y1="320.51" x2="410.90" y2="320.51" stroke="#c9163f" stroke-width="0.8" />
<line x1="407.70" y1="326.81" x2="410.90" y2="326.81" stroke="#c9163f" stroke-width="0.8" />
<line x1="462.45" y1="328.38" x2="462.45" y2="333.10" stroke="#c9163f" stroke-width="0.8" />
<line x1="460.85" y1="328.38" x2="464.05" y2="328.38" stroke="#c9163f" stroke-width="0.8" />
<line x1="460.85" y1="333.10" x2="464.05" y2="333.10" stroke="#c9163f" stroke-width="0.8" />
<line x1="489.03" y1="330.35" x2="489.03" y2="335.07" stroke="#c9163f" stroke-width="0.8" />
<line x1="487.43" y1="330.35" x2="490.63" y2="330.35" stroke="#c9163f" stroke-width="0.8" />
<line x1="487.43" y1="335.07" x2="490.63" y2="335.07" stroke="#c9163f" stroke-width="0.8" />
<line x1="502.31" y1="338.77" x2="502.31" y2="345.06" stroke="#c9163f" stroke-width="0.8" />
<line x1="500.71" y1="338.77" x2="503.91" y2="338.77" stroke="#c9163f" stroke-width="0.8" />
<line x1="500.71" y1="345.06" x2="503.91" y2="345.06" stroke="#c9163f" stroke-width="0.8" />
<line x1="508.96" y1="349.63" x2="508.96" y2="355.92" stroke="#c9163f" stroke-width="0.8" />
<line x1="507.36" y1="349.63" x2="510.56" y2="349.63" stroke="#c9163f" stroke-width="0.8" />
<line x1="507.36" y1="355.92" x2="510.56" y2="355.92" stroke="#c9163f" stroke-width="0.8" />
<line x1="512.28" y1="370.09" x2="512.28" y2="376.39" stroke="#c9163f" stroke-width="0.8" />
<line x1="510.68" y1="370.09" x2="513.88" y2="370.09" stroke="#c9163f" stroke-width="0.8" />
<line x1="510.68" y1="376.39" x2="513.88" y2="376.39" stroke="#c9163f" stroke-width="0.8" />
<line x1="409.30" y1="320.51" x2="409.30" y2="326.81" stroke="#3aaa45" stroke-width="0.8" />
<line x1="407.70" y1="320.51" x2="410.90" y2="320.51" stroke="#3aaa45" stroke-width="0.8" />
<line x1="407.70" y1="326.81" x2="410.90" y2="326.81" stroke="#3aaa45" stroke-width="0.8" />
<line x1="462.45" y1="325.55" x2="462.45" y2="334.99" stroke="#3aaa45" stroke-width="0.8" />
<line x1="460.85" y1="325.55" x2="464.05" y2="325.55" stroke="#3aaa45" stroke-width="0.8" />
<line x1="460.85" y1="334.99" x2="464.05" y2="334.99" stroke="#3aaa45" stroke-width="0.8" />
<line x1="489.03" y1="328.38" x2="489.03" y2="336.25" stroke="#3aaa45" stroke-width="0.8" />
<line x1="487.43" y1="328.38" x2="490.63" y2="328.38" stroke="#3aaa45" stroke-width="0.8" />
<line x1="487.43" y1="336.25" x2="490.63" y2="336.25" stroke="#3aaa45" stroke-width="0.8" />
<line x1="502.31" y1="335.46" x2="502.31" y2="344.91" stroke="#3aaa45" stroke-width="0.8" />
<line x1="500.71" y1="335.46" x2="503.91" y2="335.46" stroke="#3aaa45" stroke-width="0.8" />
<line x1="500.71" y1="344.91" x2="503.91" y2="344.91" stroke="#3aaa45" stroke-width="0.8" />
<line x1="508.96" y1="344.91" x2="508.96" y2="351.20" stroke="#3aaa45" stroke-width="0.8" />
<line x1="507.36" y1="344.91" x2="510.56" y2="344.91" stroke="#3aaa45" stroke-width="0.8" />
<line x1="507.36" y1="351.20" x2="510.56" y2="351.20" stroke="#3aaa45" stroke-width="0.8" />
<line x1="512.28" y1="364.58" x2="512.28" y2="370.88" stroke="#3aaa45" stroke-width="0.8" />
<line x1="510.68" y1="364.58" x2="513.88" y2="364.58" stroke="#3aaa45" stroke-width="0.8" />
<line x1="510.68" y1="370.88" x2="513.88" y2="370.88" stroke="#3aaa45" stroke-width="0.8" />
<line x1="409.30" y1="318.94" x2="409.30" y2="323.66" stroke="#4e2568" stroke-width="0.8" />
<line x1="407.70" y1="318.94" x2="410.90" y2="318.94" stroke="#4e2568" stroke-width="0.8" />
<line x1="407.70" y1="323.66" x2="410.90" y2="323.66" stroke="#4e2568" stroke-width="0.8" />
<line x1="462.45" y1="326.02" x2="462.45" y2="330.74" stroke="#4e2568" stroke-width="0.8" />
<line x1="460.85" y1="326.02" x2="464.05" y2="326.02" stroke="#4e2568" stroke-width="0.8" />
<line x1="460.85" y1="330.74" x2="464.05" y2="330.74" stroke="#4e2568" stroke-width="0.8" />
<line x1="489.03" y1="327.59" x2="489.03" y2="332.31" stroke="#4e2568" stroke-width="0.8" />
<line x1="487.43" y1="327.59" x2="490.63" y2="327.59" stroke="#4e2568" stroke-width="0.8" />
<line x1="487.43" y1="332.31" x2="490.63" y2="332.31" stroke="#4e2568" stroke-width="0.8" />
<line x1="502.31" y1="337.04" x2="502.31" y2="341.76" stroke="#4e2568" stroke-width="0.8" />
<line x1="500.71" y1="337.04" x2="503.91" y2="337.04" stroke="#4e2568" stroke-width="0.8" />
<line x1="500.71" y1="341.76" x2="503.91" y2="341.76" stroke="#4e2568" stroke-width="0.8" />
<line x1="508.96" y1="344.91" x2="508.96" y2="349.63" stroke="#4e2568" stroke-width="0.8" />
<line x1="507.36" y1="344.91" x2="510.56" y2="344.91" stroke="#4e2568" stroke-width="0.8" />
<line x1="507.36" y1="349.63" x2="510.56" y2="349.63" stroke="#4e2568" stroke-width="0.8" />
<line x1="512.28" y1="366.94" x2="512.28" y2="371.66" stroke="#4e2568" stroke-width="0.8" />
<line x1="510.68" y1="366.94" x2="513.88" y2="366.94" stroke="#4e2568" stroke-width="0.8" />
<line x1="510.68" y1="371.66" x2="513.88" y2="371.66" stroke="#4e2568" stroke-width="0.8" />
<line x1="409.30" y1="318.46" x2="409.30" y2="323.18" stroke="#1d5c9c" stroke-width="0.8" />
<line x1="407.70" y1="318.46" x2="410.90" y2="318.46" stroke="#1d5c9c" stroke-width="0.8" />
<line x1="407.70" y1="323.18" x2="410.90" y2="323.18" stroke="#1d5c9c" stroke-width="0.8" />
<line x1="462.45" y1="325.23" x2="462.45" y2="329.95" stroke="#1d5c9c" stroke-width="0.8" />
<line x1="460.85" y1="325.23" x2="464.05" y2="325.23" stroke="#1d5c9c" stroke-width="0.8" />
<line x1="460.85" y1="329.95" x2="464.05" y2="329.95" stroke="#1d5c9c" stroke-width="0.8" />
<line x1="489.03" y1="326.81" x2="489.03" y2="331.53" stroke="#1d5c9c" stroke-width="0.8" />
<line x1="487.43" y1="326.81" x2="490.63" y2="326.81" stroke="#1d5c9c" stroke-width="0.8" />
<line x1="487.43" y1="331.53" x2="490.63" y2="331.53" stroke="#1d5c9c" stroke-width="0.8" />
<line x1="502.31" y1="335.78" x2="502.31" y2="340.50" stroke="#1d5c9c" stroke-width="0.8" />
<line x1="500.71" y1="335.78" x2="503.91" y2="335.78" stroke="#1d5c9c" stroke-width="0.8" />
<line x1="500.71" y1="340.50" x2="503.91" y2="340.50" stroke="#1d5c9c" stroke-width="0.8" />
<line x1="508.96" y1="343.33" x2="508.96" y2="348.05" stroke="#1d5c9c" stroke-width="0.8" />
<line x1="507.36" y1="343.33" x2="510.56" y2="343.33" stroke="#1d5c9c" stroke-width="0.8" />
<line x1="507.36" y1="348.05" x2="510.56" y2="348.05" stroke="#1d5c9c" stroke-width="0.8" />
<line x1="512.28" y1="366.39" x2="512.28" y2="371.11" stroke="#1d5c9c" stroke-width="0.8" />
<line x1="510.68" y1="366.39" x2="513.88" y2="366.39" stroke="#1d5c9c" stroke-width="0.8" />
<line x1="510.68" y1="371.11" x2="513.88" y2="371.11" stroke="#1d5c9c" stroke-width="0.8" />
<line x1="135.90" y1="430.00" x2="143.90" y2="430.00" stroke="#1d5c9c" stroke-width="1.2" />
<text x="146.70" y="432.20" font-size="7.3" fill="#1a1a1a" stroke="#1a1a1a" stroke-width="0.1" >Vehicle</text>
<line x1="177.20" y1="430.00" x2="185.20" y2="430.00" stroke="#c9163f" stroke-width="1.2" />
<text x="188.00" y="432.20" font-size="7.3" fill="#1a1a1a" stroke="#1a1a1a" stroke-width="0.1" >Ibrutinib</text>
<line x1="224.20" y1="430.00" x2="232.20" y2="430.00" stroke="#3aaa45" stroke-width="1.2" />
<text x="235.00" y="432.20" font-size="7.3" fill="#1a1a1a" stroke="#1a1a1a" stroke-width="0.1" >Acalabrutinib</text>
<line x1="285.60" y1="430.00" x2="293.60" y2="430.00" stroke="#4e2568" stroke-width="1.2" />
<text x="296.40" y="432.20" font-size="7.3" fill="#1a1a1a" stroke="#1a1a1a" stroke-width="0.1" >Idelalisib</text>
<line x1="330.60" y1="430.00" x2="338.60" y2="430.00" stroke="#f2a32c" stroke-width="1.2" />
<text x="341.40" y="432.20" font-size="7.3" fill="#1a1a1a" stroke="#1a1a1a" stroke-width="0.1" >Lenalidomide</text>
<text x="0.90" y="465.20" font-size="10.5" fill="#000" font-weight="700" >C</text>
<text x="22" y="465.9" font-size="8.1" fill="#5db35e">CD56<tspan font-size="5.6" dy="1.6">bright</tspan><tspan dy="-1.6">CD16−</tspan></text>
<line x1="88.80" y1="463.20" x2="114.60" y2="463.20" stroke="#111" stroke-width="1.1" />
<path d="M113.80,461.20 L117.60,463.20 L113.80,465.20 Z" fill="#111"/>
<text x="123.6" y="465.7" font-size="8.4" fill="#111">CD56<tspan font-size="5.6" dy="1.6">dim</tspan><tspan dy="-1.6">CD16+</tspan></text>
<path d="M52.2,494.3 C52.2,488.5 56.5,484.5 64,484.5 H143 C151,484.5 156,481 156,473.8 C156,481 161,484.5 169,484.5 H418 C426,484.5 433.2,488.5 433.2,494.3" fill="none" stroke="#1a1a1a" stroke-width="1.2"/>
<text x="51.20" y="505.40" font-size="8.1" fill="#2b5e93" stroke="#2b5e93" stroke-width="0.1" >NKG2A+ KIR− CD57−</text>
<line x1="136.40" y1="502.60" x2="145.20" y2="502.60" stroke="#111" stroke-width="1.1" />
<path d="M144.40,500.60 L148.20,502.60 L144.40,504.60 Z" fill="#111"/>
<text x="152.80" y="495.70" font-size="8.1" fill="#5e3285" stroke="#5e3285" stroke-width="0.1" >NKG2A− KIR− CD57−</text>
<text x="152.80" y="505.15" font-size="8.1" fill="#5e3285" stroke="#5e3285" stroke-width="0.1" >NKG2A+ KIR+ CD57−</text>
<text x="152.80" y="514.60" font-size="8.1" fill="#5e3285" stroke="#5e3285" stroke-width="0.1" >NKG2A+ KIR− CD57+</text>
<line x1="236.70" y1="502.60" x2="245.40" y2="502.60" stroke="#111" stroke-width="1.1" />
<path d="M244.60,500.60 L248.40,502.60 L244.60,504.60 Z" fill="#111"/>
<text x="255.70" y="495.70" font-size="8.1" fill="#c8203f" stroke="#c8203f" stroke-width="0.1" >NKG2A+ KIR+ CD57+</text>
<text x="255.70" y="505.15" font-size="8.1" fill="#c8203f" stroke="#c8203f" stroke-width="0.1" >NKG2A− KIR+ CD57−</text>
<text x="255.70" y="514.60" font-size="8.1" fill="#c8203f" stroke="#c8203f" stroke-width="0.1" >NKG2A− KIR− CD57+</text>
<line x1="341.00" y1="502.60" x2="349.70" y2="502.60" stroke="#111" stroke-width="1.1" />
<path d="M348.90,500.60 L352.70,502.60 L348.90,504.60 Z" fill="#111"/>
<text x="357.60" y="505.00" font-size="8.1" fill="#c98a4b" stroke="#c98a4b" stroke-width="0.1" >NKG2A− KIR+ CD57+</text>
<path d="M355.8,512.3 V515 H443.8 V512.3" fill="none" stroke="#c98a4b" stroke-width="0.9"/>
<text x="363.20" y="525.20" font-size="7.55" fill="#c98a4b" stroke="#c98a4b" stroke-width="0.1" >(&lt;0.5% in all samples)</text>
<text x="87.40" y="558.40" font-size="10.5" fill="#000" font-weight="700" >D</text>
<rect x="110.00" y="561.80" width="39.20" height="36.10" fill="#3fae4a"/>
<rect x="110.00" y="597.90" width="39.20" height="20.50" fill="#1f5593"/>
<rect x="110.00" y="618.40" width="39.20" height="15.60" fill="#5b2d7e"/>
<rect x="110.00" y="634.00" width="39.20" height="5.80" fill="#d0163a"/>
<text x="129.60" y="558.70" font-size="7.6" fill="#111" stroke="#111" stroke-width="0.1" text-anchor="middle" >Untreated</text>
<text x="129.60" y="582.45" font-size="7.2" fill="#fff" stroke="#fff" stroke-width="0.1" text-anchor="middle" >45.9%</text>
<text x="129.60" y="610.75" font-size="7.2" fill="#fff" stroke="#fff" stroke-width="0.1" text-anchor="middle" >26.6%</text>
<text x="129.60" y="628.80" font-size="7.2" fill="#fff" stroke="#fff" stroke-width="0.1" text-anchor="middle" >20.0%</text>
<text x="129.60" y="639.50" font-size="7.2" fill="#fff" stroke="#fff" stroke-width="0.1" text-anchor="middle" >7.5%</text>
<rect x="159.80" y="561.80" width="40.00" height="37.40" fill="#3fae4a"/>
<rect x="159.80" y="599.20" width="40.00" height="18.40" fill="#1f5593"/>
<rect x="159.80" y="617.60" width="40.00" height="15.60" fill="#5b2d7e"/>
<rect x="159.80" y="633.20" width="40.00" height="6.60" fill="#d0163a"/>
<text x="179.80" y="558.70" font-size="7.6" fill="#111" stroke="#111" stroke-width="0.1" text-anchor="middle" >Acalabrutinib</text>
<text x="179.80" y="583.10" font-size="7.2" fill="#fff" stroke="#fff" stroke-width="0.1" text-anchor="middle" >47.6%</text>
<text x="179.80" y="611.00" font-size="7.2" fill="#fff" stroke="#fff" stroke-width="0.1" text-anchor="middle" >24.1%</text>
<text x="179.80" y="628.00" font-size="7.2" fill="#fff" stroke="#fff" stroke-width="0.1" text-anchor="middle" >19.9%</text>
<text x="179.80" y="639.10" font-size="7.2" fill="#fff" stroke="#fff" stroke-width="0.1" text-anchor="middle" >8.3%</text>
<rect x="209.90" y="561.80" width="39.40" height="33.50" fill="#3fae4a"/>
<rect x="209.90" y="595.30" width="39.40" height="18.50" fill="#1f5593"/>
<rect x="209.90" y="613.80" width="39.40" height="16.40" fill="#5b2d7e"/>
<rect x="209.90" y="630.20" width="39.40" height="9.60" fill="#d0163a"/>
<text x="229.60" y="558.70" font-size="7.6" fill="#111" stroke="#111" stroke-width="0.1" text-anchor="middle" >Lenalidomide</text>
<text x="229.60" y="581.15" font-size="7.2" fill="#fff" stroke="#fff" stroke-width="0.1" text-anchor="middle" >42.2%</text>
<text x="229.60" y="607.15" font-size="7.2" fill="#fff" stroke="#fff" stroke-width="0.1" text-anchor="middle" >23.2%</text>
<text x="229.60" y="624.60" font-size="7.2" fill="#fff" stroke="#fff" stroke-width="0.1" text-anchor="middle" >23.0%</text>
<text x="229.60" y="637.60" font-size="7.2" fill="#fff" stroke="#fff" stroke-width="0.1" text-anchor="middle" >11.6%</text>
<rect x="293.30" y="561.80" width="39.30" height="27.80" fill="#3fae4a"/>
<rect x="293.30" y="589.60" width="39.30" height="22.40" fill="#1f5593"/>
<rect x="293.30" y="612.00" width="39.30" height="19.80" fill="#5b2d7e"/>
<rect x="293.30" y="631.80" width="39.30" height="8.00" fill="#d0163a"/>
<text x="312.95" y="558.70" font-size="7.6" fill="#111" stroke="#111" stroke-width="0.1" text-anchor="middle" >Untreated</text>
<text x="312.95" y="578.30" font-size="7.2" fill="#fff" stroke="#fff" stroke-width="0.1" text-anchor="middle" >35.8%</text>
<text x="312.95" y="603.40" font-size="7.2" fill="#fff" stroke="#fff" stroke-width="0.1" text-anchor="middle" >27.7%</text>
<text x="312.95" y="624.50" font-size="7.2" fill="#fff" stroke="#fff" stroke-width="0.1" text-anchor="middle" >26.1%</text>
<text x="312.95" y="638.40" font-size="7.2" fill="#fff" stroke="#fff" stroke-width="0.1" text-anchor="middle" >10.3%</text>
<rect x="343.50" y="561.80" width="39.20" height="27.80" fill="#3fae4a"/>
<rect x="343.50" y="589.60" width="39.20" height="21.80" fill="#1f5593"/>
<rect x="343.50" y="611.40" width="39.20" height="20.40" fill="#5b2d7e"/>
<rect x="343.50" y="631.80" width="39.20" height="8.00" fill="#d0163a"/>
<text x="363.10" y="558.70" font-size="7.6" fill="#111" stroke="#111" stroke-width="0.1" text-anchor="middle" >Ibrutinib</text>
<text x="363.10" y="578.30" font-size="7.2" fill="#fff" stroke="#fff" stroke-width="0.1" text-anchor="middle" >42.6%</text>
<text x="363.10" y="603.10" font-size="7.2" fill="#fff" stroke="#fff" stroke-width="0.1" text-anchor="middle" >24.9%</text>
<text x="363.10" y="624.20" font-size="7.2" fill="#fff" stroke="#fff" stroke-width="0.1" text-anchor="middle" >22.0%</text>
<text x="363.10" y="638.40" font-size="7.2" fill="#fff" stroke="#fff" stroke-width="0.1" text-anchor="middle" >10.4%</text>
<rect x="393.20" y="561.80" width="39.10" height="23.90" fill="#3fae4a"/>
<rect x="393.20" y="585.70" width="39.10" height="26.00" fill="#1f5593"/>
<rect x="393.20" y="611.70" width="39.10" height="18.90" fill="#5b2d7e"/>
<rect x="393.20" y="630.60" width="39.10" height="9.20" fill="#d0163a"/>
<text x="412.75" y="558.70" font-size="7.6" fill="#111" stroke="#111" stroke-width="0.1" text-anchor="middle" >Idelalisib</text>
<text x="412.75" y="576.35" font-size="7.2" fill="#fff" stroke="#fff" stroke-width="0.1" text-anchor="middle" >30.6%</text>
<text x="412.75" y="601.30" font-size="7.2" fill="#fff" stroke="#fff" stroke-width="0.1" text-anchor="middle" >32.7%</text>
<text x="412.75" y="623.75" font-size="7.2" fill="#fff" stroke="#fff" stroke-width="0.1" text-anchor="middle" >25.1%</text>
<text x="412.75" y="637.80" font-size="7.2" fill="#fff" stroke="#fff" stroke-width="0.1" text-anchor="middle" >11.1%</text>
</svg>
</body></html>
